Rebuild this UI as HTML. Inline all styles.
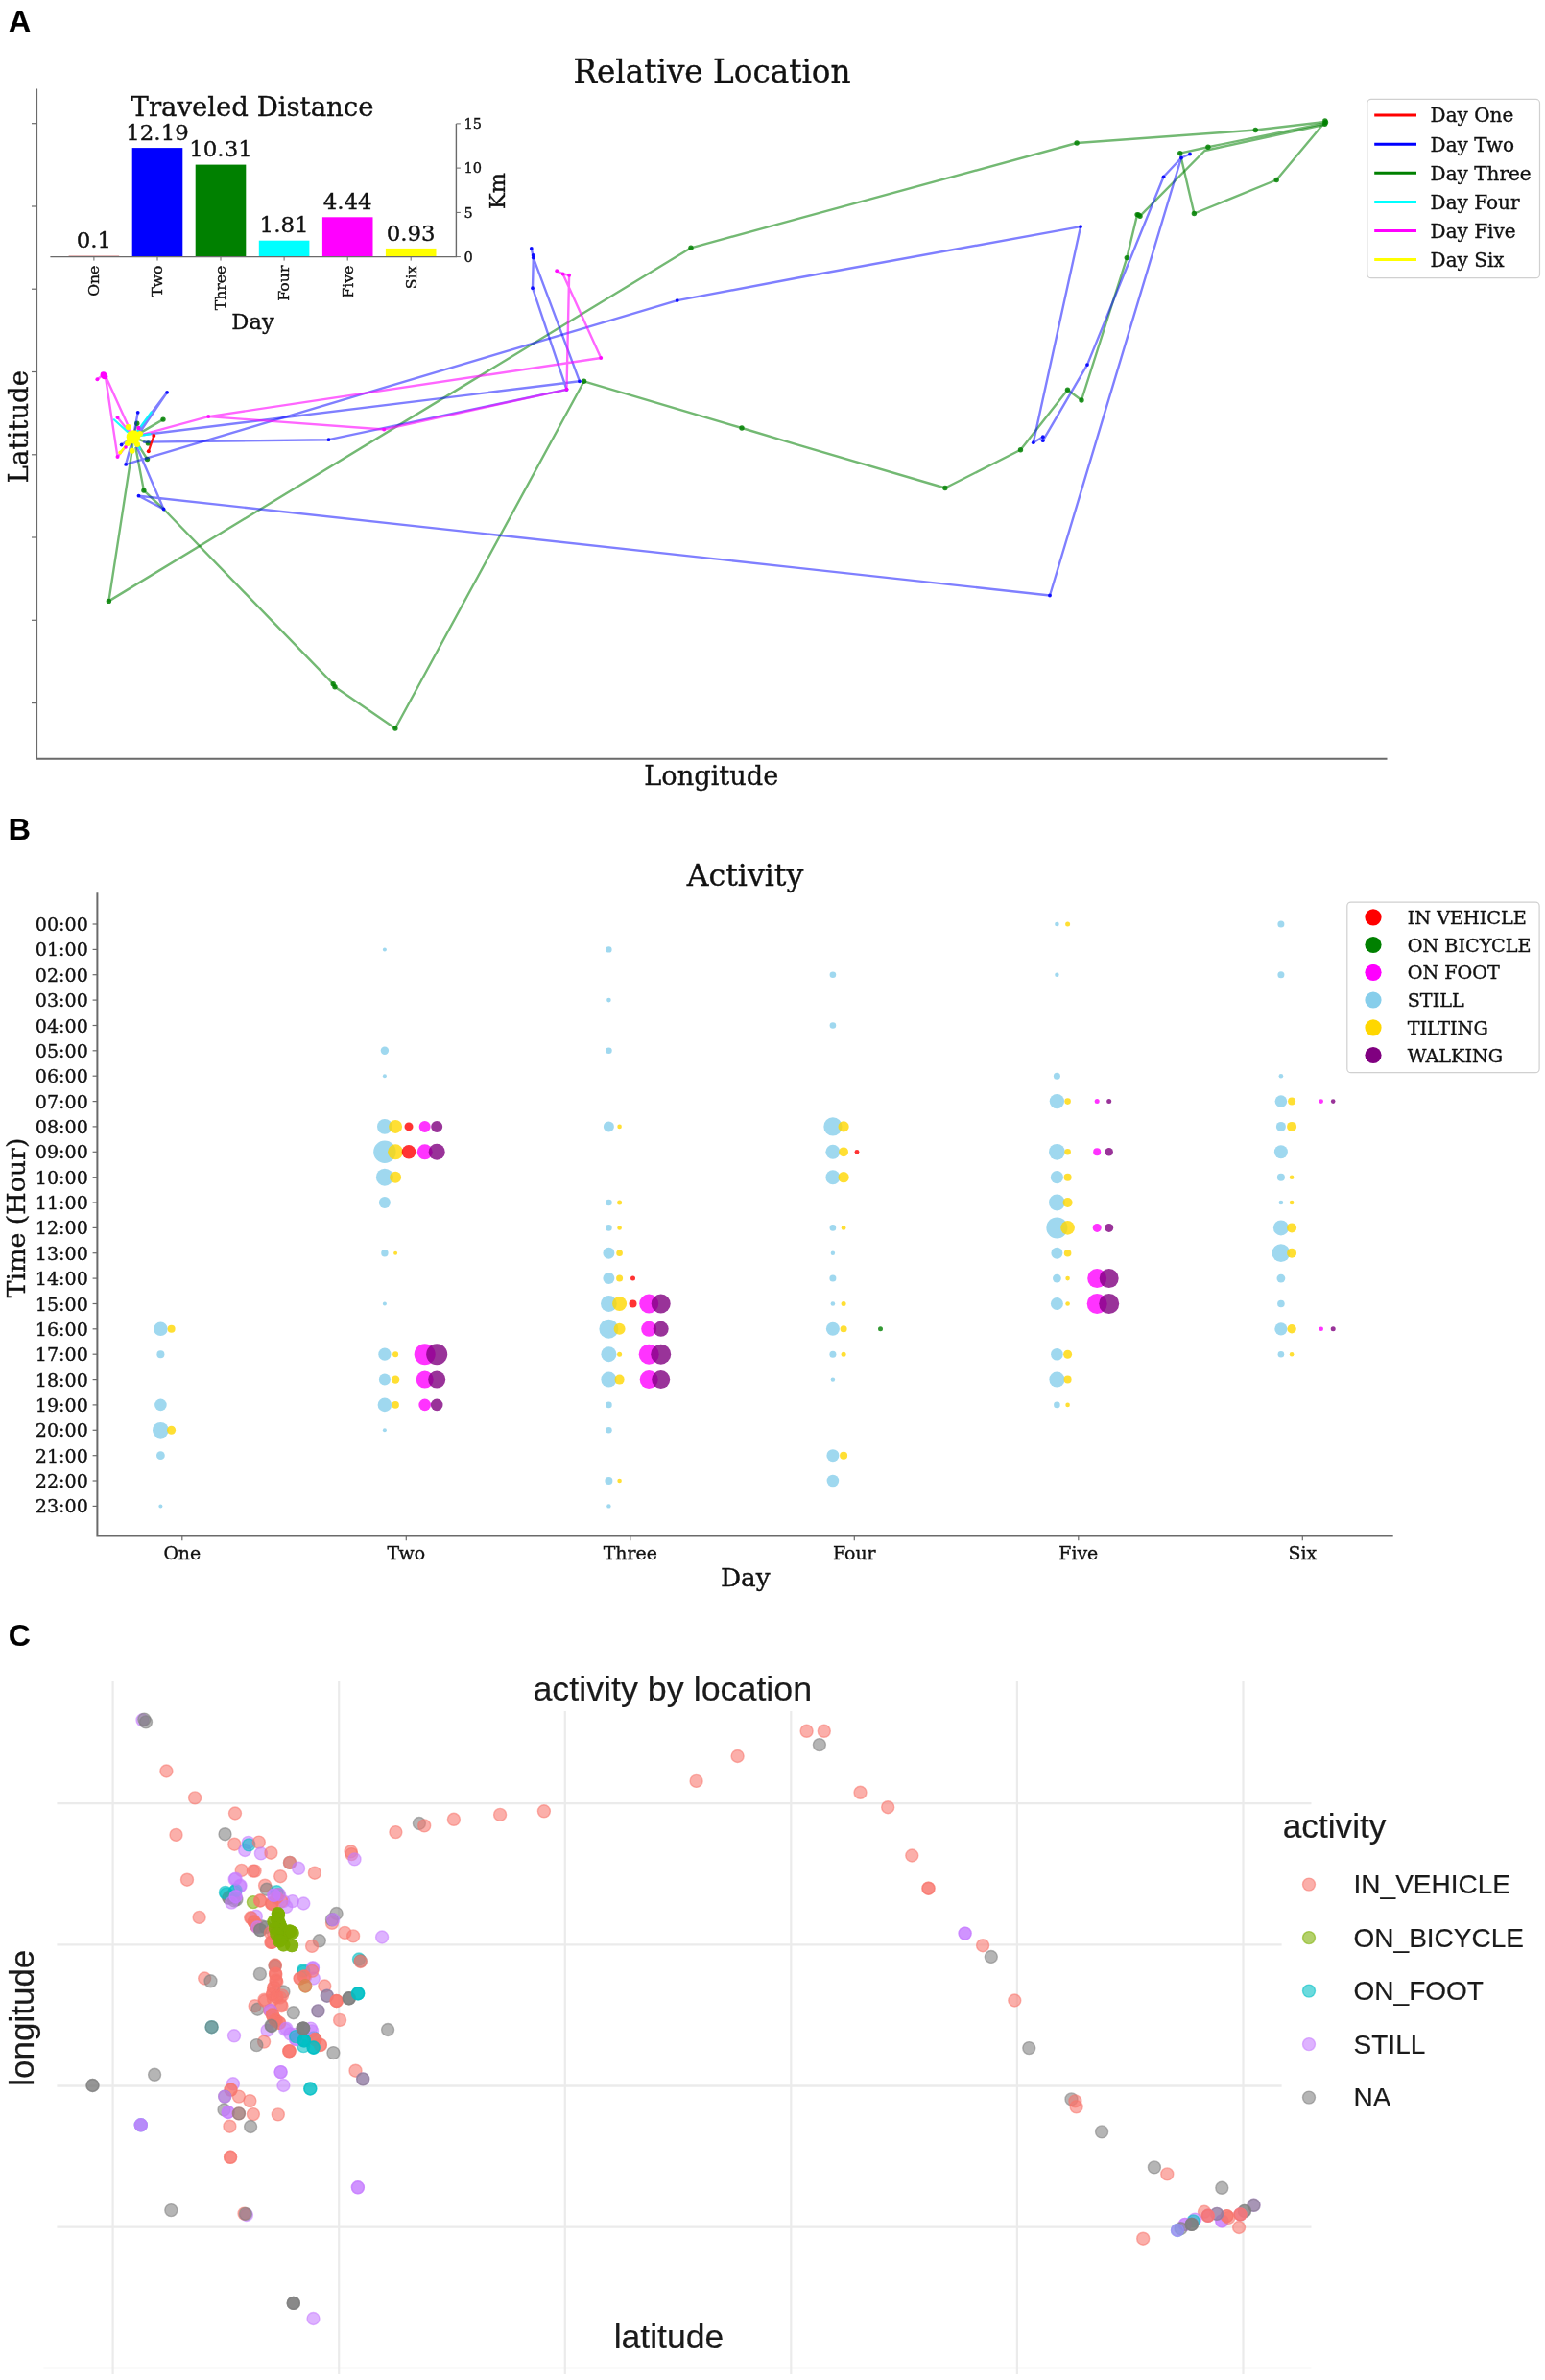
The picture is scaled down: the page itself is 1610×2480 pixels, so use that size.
<!DOCTYPE html>
<html lang="en"><head><meta charset="utf-8"><title>Figure</title>
<style>html,body{margin:0;padding:0;background:#fff}svg{display:block;filter:blur(0.5px)}</style></head><body>
<svg width="1610" height="2480" viewBox="0 0 1610 2480">
<rect width="1610" height="2480" fill="#fff"/>
<g id="panelA">
<text x="9" y="32.6" font-size="32" text-anchor="start" font-family='"Liberation Sans","DejaVu Sans",sans-serif' fill="#000" stroke="#000" stroke-width="0.2" font-weight="bold">A</text>
<text x="742" y="85.9" font-size="32.7" text-anchor="middle" font-family='"DejaVu Serif","Liberation Serif",serif' fill="#111" stroke="#111" stroke-width="0.35">Relative Location</text>
<text x="741.3" y="817.9" font-size="27.2" text-anchor="middle" font-family='"DejaVu Serif","Liberation Serif",serif' fill="#111" stroke="#111" stroke-width="0.35">Longitude</text>
<text x="29" y="444.6" font-size="27.5" text-anchor="middle" font-family='"DejaVu Serif","Liberation Serif",serif' fill="#111" stroke="#111" stroke-width="0.35" transform="rotate(-90 29 444.6)">Latitude</text>
<path d="M38.1 92.6V790.8H1445.5" fill="none" stroke="#6a6a6a" stroke-width="2"/>
<path d="M33 128.7H38" stroke="#6a6a6a" stroke-width="1.2"/>
<path d="M33 215.0H38" stroke="#6a6a6a" stroke-width="1.2"/>
<path d="M33 301.2H38" stroke="#6a6a6a" stroke-width="1.2"/>
<path d="M33 387.5H38" stroke="#6a6a6a" stroke-width="1.2"/>
<path d="M33 473.8H38" stroke="#6a6a6a" stroke-width="1.2"/>
<path d="M33 560.0H38" stroke="#6a6a6a" stroke-width="1.2"/>
<path d="M33 646.3H38" stroke="#6a6a6a" stroke-width="1.2"/>
<path d="M33 732.6H38" stroke="#6a6a6a" stroke-width="1.2"/>
<polyline points="138.9,455.4 142.8,441.2 138.9,455.4 170.0,437.1 138.9,455.4 154.4,461.9 138.9,455.4 153.5,478.5 138.9,455.4 137.5,470.0 113.4,626.4 720.0,258.3 830.0,228.4 1122.1,149.0 1308.3,135.5 1380.8,127.0" fill="none" stroke="#008000" stroke-width="2.4" stroke-opacity="0.55" stroke-linejoin="round" stroke-linecap="round"/>
<polyline points="141.5,467.0 149.9,511.1 170.6,530.5 347.2,712.7 349.0,715.8 411.9,759.0 608.6,397.3 773.0,446.0 830.0,463.2 984.9,508.5 1063.5,468.8 1112.5,406.2 1127.0,417.0 1174.3,268.6 1185.1,223.6 1188.0,225.2 1255.4,157.0 1380.6,129.8" fill="none" stroke="#008000" stroke-width="2.4" stroke-opacity="0.55" stroke-linejoin="round" stroke-linecap="round"/>
<polyline points="1380.6,128.5 1258.9,153.2 1229.7,159.6 1244.4,222.5 1330.2,187.5 1380.8,127.0" fill="none" stroke="#008000" stroke-width="2.4" stroke-opacity="0.55" stroke-linejoin="round" stroke-linecap="round"/>
<circle cx="142.8" cy="441.2" r="2.7" fill="#008000" fill-opacity="0.85"/>
<circle cx="170.0" cy="437.1" r="2.7" fill="#008000" fill-opacity="0.85"/>
<circle cx="154.4" cy="461.9" r="2.7" fill="#008000" fill-opacity="0.85"/>
<circle cx="153.5" cy="478.5" r="2.7" fill="#008000" fill-opacity="0.85"/>
<circle cx="113.4" cy="626.4" r="2.7" fill="#008000" fill-opacity="0.85"/>
<circle cx="608.6" cy="397.3" r="2.7" fill="#008000" fill-opacity="0.85"/>
<circle cx="773.0" cy="446.0" r="2.7" fill="#008000" fill-opacity="0.85"/>
<circle cx="984.9" cy="508.5" r="2.7" fill="#008000" fill-opacity="0.85"/>
<circle cx="1063.5" cy="468.8" r="2.7" fill="#008000" fill-opacity="0.85"/>
<circle cx="1112.5" cy="406.2" r="2.7" fill="#008000" fill-opacity="0.85"/>
<circle cx="1127.0" cy="417.0" r="2.7" fill="#008000" fill-opacity="0.85"/>
<circle cx="1174.3" cy="268.6" r="2.7" fill="#008000" fill-opacity="0.85"/>
<circle cx="1185.1" cy="223.6" r="2.7" fill="#008000" fill-opacity="0.85"/>
<circle cx="1188.0" cy="225.2" r="2.7" fill="#008000" fill-opacity="0.85"/>
<circle cx="1186.5" cy="224.0" r="2.7" fill="#008000" fill-opacity="0.85"/>
<circle cx="1258.9" cy="153.2" r="2.7" fill="#008000" fill-opacity="0.85"/>
<circle cx="1229.7" cy="159.6" r="2.7" fill="#008000" fill-opacity="0.85"/>
<circle cx="1244.4" cy="222.5" r="2.7" fill="#008000" fill-opacity="0.85"/>
<circle cx="1330.2" cy="187.5" r="2.7" fill="#008000" fill-opacity="0.85"/>
<circle cx="1380.8" cy="126.0" r="2.7" fill="#008000" fill-opacity="0.85"/>
<circle cx="1380.6" cy="129.3" r="2.7" fill="#008000" fill-opacity="0.85"/>
<circle cx="1381.5" cy="127.5" r="2.7" fill="#008000" fill-opacity="0.85"/>
<circle cx="1308.3" cy="135.5" r="2.7" fill="#008000" fill-opacity="0.85"/>
<circle cx="1122.1" cy="149.0" r="2.7" fill="#008000" fill-opacity="0.85"/>
<circle cx="720.0" cy="258.3" r="2.7" fill="#008000" fill-opacity="0.85"/>
<circle cx="149.9" cy="511.1" r="2.7" fill="#008000" fill-opacity="0.85"/>
<circle cx="347.2" cy="712.7" r="2.7" fill="#008000" fill-opacity="0.85"/>
<circle cx="349.0" cy="715.8" r="2.7" fill="#008000" fill-opacity="0.85"/>
<circle cx="411.9" cy="759.0" r="2.7" fill="#008000" fill-opacity="0.85"/>
<polyline points="138.9,455.4 174.1,408.8 146.0,450.0 138.9,455.4 143.7,429.8 138.9,455.4 126.6,463.5 138.9,455.4 131.1,483.9 705.7,313.1 830.0,289.8 1126.1,236.1 1076.8,461.2 1086.8,455.2 1086.8,459.2 1133.0,380.1 1212.5,184.3 1231.0,164.5 1240.0,160.5 1231.0,164.5 1094.0,620.5 830.0,591.6 144.5,516.7 170.6,530.5 141.0,462.0" fill="none" stroke="#0000ff" stroke-width="2.4" stroke-opacity="0.5" stroke-linejoin="round" stroke-linecap="round"/>
<polyline points="150.0,460.6 342.5,458.2 590.5,405.8 555.0,300.2 555.8,268.6 553.8,259.0 555.8,268.6 604.0,397.3 150.0,453.0" fill="none" stroke="#0000ff" stroke-width="2.4" stroke-opacity="0.5" stroke-linejoin="round" stroke-linecap="round"/>
<circle cx="174.1" cy="408.8" r="1.9" fill="#0000ff" fill-opacity="0.9"/>
<circle cx="143.7" cy="429.8" r="1.9" fill="#0000ff" fill-opacity="0.9"/>
<circle cx="126.6" cy="463.5" r="1.9" fill="#0000ff" fill-opacity="0.9"/>
<circle cx="131.1" cy="483.9" r="1.9" fill="#0000ff" fill-opacity="0.9"/>
<circle cx="705.7" cy="313.1" r="1.9" fill="#0000ff" fill-opacity="0.9"/>
<circle cx="1126.1" cy="236.1" r="1.9" fill="#0000ff" fill-opacity="0.9"/>
<circle cx="1076.8" cy="461.2" r="1.9" fill="#0000ff" fill-opacity="0.9"/>
<circle cx="1086.8" cy="455.2" r="1.9" fill="#0000ff" fill-opacity="0.9"/>
<circle cx="1086.8" cy="459.2" r="1.9" fill="#0000ff" fill-opacity="0.9"/>
<circle cx="1133.0" cy="380.1" r="1.9" fill="#0000ff" fill-opacity="0.9"/>
<circle cx="1212.5" cy="184.3" r="1.9" fill="#0000ff" fill-opacity="0.9"/>
<circle cx="1231.0" cy="164.5" r="1.9" fill="#0000ff" fill-opacity="0.9"/>
<circle cx="1240.0" cy="160.5" r="1.9" fill="#0000ff" fill-opacity="0.9"/>
<circle cx="1094.0" cy="620.5" r="1.9" fill="#0000ff" fill-opacity="0.9"/>
<circle cx="144.5" cy="516.7" r="1.9" fill="#0000ff" fill-opacity="0.9"/>
<circle cx="170.6" cy="530.5" r="1.9" fill="#0000ff" fill-opacity="0.9"/>
<circle cx="342.5" cy="458.2" r="1.9" fill="#0000ff" fill-opacity="0.9"/>
<circle cx="590.5" cy="405.8" r="1.9" fill="#0000ff" fill-opacity="0.9"/>
<circle cx="555.0" cy="300.2" r="1.9" fill="#0000ff" fill-opacity="0.9"/>
<circle cx="555.8" cy="268.6" r="1.9" fill="#0000ff" fill-opacity="0.9"/>
<circle cx="555.6" cy="266.0" r="1.9" fill="#0000ff" fill-opacity="0.9"/>
<circle cx="553.8" cy="259.0" r="1.9" fill="#0000ff" fill-opacity="0.9"/>
<circle cx="604.0" cy="397.3" r="1.9" fill="#0000ff" fill-opacity="0.9"/>
<polyline points="138.9,455.4 110.4,392.7 107.8,390.5 101.4,395.2 107.8,390.5 110.0,393.0 122.5,476.1 138.9,455.4 122.5,435.1 138.9,455.4 217.2,434.1 626.2,373.0 586.6,285.4 580.2,282.3 586.6,285.4 593.1,286.7 590.5,405.8 400.2,447.5 217.2,434.1 138.9,455.4" fill="none" stroke="#ff00ff" stroke-width="2.4" stroke-opacity="0.6" stroke-linejoin="round" stroke-linecap="round"/>
<circle cx="110.4" cy="392.7" r="2.0" fill="#ff00ff" fill-opacity="0.9"/>
<circle cx="101.4" cy="395.2" r="2.0" fill="#ff00ff" fill-opacity="0.9"/>
<circle cx="122.5" cy="476.1" r="2.0" fill="#ff00ff" fill-opacity="0.9"/>
<circle cx="122.5" cy="435.1" r="2.0" fill="#ff00ff" fill-opacity="0.9"/>
<circle cx="217.2" cy="434.1" r="2.0" fill="#ff00ff" fill-opacity="0.9"/>
<circle cx="626.2" cy="373.0" r="2.0" fill="#ff00ff" fill-opacity="0.9"/>
<circle cx="586.6" cy="285.4" r="2.0" fill="#ff00ff" fill-opacity="0.9"/>
<circle cx="580.2" cy="282.3" r="2.0" fill="#ff00ff" fill-opacity="0.9"/>
<circle cx="593.1" cy="286.7" r="2.0" fill="#ff00ff" fill-opacity="0.9"/>
<circle cx="590.5" cy="405.8" r="2.0" fill="#ff00ff" fill-opacity="0.9"/>
<circle cx="400.2" cy="447.5" r="2.0" fill="#ff00ff" fill-opacity="0.9"/>
<circle cx="107.8" cy="390.5" r="3.2" fill="#ff00ff" fill-opacity="1"/>
<circle cx="109.0" cy="392.0" r="3.2" fill="#ff00ff" fill-opacity="1"/>
<polyline points="138.9,455.4 157.7,429.5" fill="none" stroke="#00ffff" stroke-width="2.2" stroke-opacity="0.9" stroke-linejoin="round" stroke-linecap="round"/>
<polyline points="138.9,455.4 118.8,437.3" fill="none" stroke="#00ffff" stroke-width="2.2" stroke-opacity="0.9" stroke-linejoin="round" stroke-linecap="round"/>
<polyline points="138.9,455.4 156.4,452.2" fill="none" stroke="#00ffff" stroke-width="2.2" stroke-opacity="0.9" stroke-linejoin="round" stroke-linecap="round"/>
<polyline points="138.9,455.4 130.0,466.0" fill="none" stroke="#00ffff" stroke-width="2.2" stroke-opacity="0.9" stroke-linejoin="round" stroke-linecap="round"/>
<polyline points="138.9,455.4 146.0,468.0" fill="none" stroke="#00ffff" stroke-width="2.2" stroke-opacity="0.9" stroke-linejoin="round" stroke-linecap="round"/>
<polyline points="160.3,454.1 154.8,470.3" fill="none" stroke="#ff0000" stroke-width="2.2" stroke-opacity="0.9" stroke-linejoin="round" stroke-linecap="round"/>
<circle cx="160.3" cy="454.1" r="2" fill="#ff0000" fill-opacity="1"/>
<circle cx="154.8" cy="470.3" r="2" fill="#ff0000" fill-opacity="1"/>
<polyline points="138.9,455.4 125.3,471.6" fill="none" stroke="#ffff00" stroke-width="2.4" stroke-opacity="1" stroke-linejoin="round" stroke-linecap="round"/>
<circle cx="138.9" cy="455.4" r="7.2" fill="#ffff00" fill-opacity="1"/>
<circle cx="133.7" cy="445.1" r="3" fill="#ffff00" fill-opacity="1"/>
<circle cx="137.6" cy="469.7" r="3" fill="#ffff00" fill-opacity="1"/>
<circle cx="143.0" cy="463.0" r="3" fill="#ffff00" fill-opacity="1"/>
<circle cx="133.0" cy="462.0" r="3" fill="#ffff00" fill-opacity="1"/>
<circle cx="146.0" cy="452.0" r="3" fill="#ffff00" fill-opacity="1"/>
<circle cx="125.3" cy="471.6" r="2" fill="#ffff00" fill-opacity="1"/>
<circle cx="144.5" cy="446.0" r="2.2" fill="#ff00ff" fill-opacity="1"/>
<circle cx="131.0" cy="466.0" r="1.8" fill="#ff00ff" fill-opacity="1"/>
<rect x="1424.8" y="103.4" width="179.7" height="186.3" rx="4" fill="#fff" stroke="#d0d0d0" stroke-width="1.2"/>
<path d="M1432.2 120.1H1476" stroke="#ff0000" stroke-width="3"/>
<text x="1490.6" y="127.4" font-size="20" text-anchor="start" font-family='"DejaVu Serif","Liberation Serif",serif' fill="#111" stroke="#111" stroke-width="0.35">Day One</text>
<path d="M1432.2 150.2H1476" stroke="#0000ff" stroke-width="3"/>
<text x="1490.6" y="157.5" font-size="20" text-anchor="start" font-family='"DejaVu Serif","Liberation Serif",serif' fill="#111" stroke="#111" stroke-width="0.35">Day Two</text>
<path d="M1432.2 180.3H1476" stroke="#008000" stroke-width="3"/>
<text x="1490.6" y="187.6" font-size="20" text-anchor="start" font-family='"DejaVu Serif","Liberation Serif",serif' fill="#111" stroke="#111" stroke-width="0.35">Day Three</text>
<path d="M1432.2 210.4H1476" stroke="#00ffff" stroke-width="3"/>
<text x="1490.6" y="217.7" font-size="20" text-anchor="start" font-family='"DejaVu Serif","Liberation Serif",serif' fill="#111" stroke="#111" stroke-width="0.35">Day Four</text>
<path d="M1432.2 240.5H1476" stroke="#ff00ff" stroke-width="3"/>
<text x="1490.6" y="247.8" font-size="20" text-anchor="start" font-family='"DejaVu Serif","Liberation Serif",serif' fill="#111" stroke="#111" stroke-width="0.35">Day Five</text>
<path d="M1432.2 270.6H1476" stroke="#ffff00" stroke-width="3"/>
<text x="1490.6" y="277.9" font-size="20" text-anchor="start" font-family='"DejaVu Serif","Liberation Serif",serif' fill="#111" stroke="#111" stroke-width="0.35">Day Six</text>
<text x="263" y="121.3" font-size="27.5" text-anchor="middle" font-family='"DejaVu Serif","Liberation Serif",serif' fill="#111" stroke="#111" stroke-width="0.35">Traveled Distance</text>
<rect x="71.6" y="266.7" width="52.6" height="0.9" fill="#b22222"/>
<text x="97.9" y="258.4" font-size="22.9" text-anchor="middle" font-family='"DejaVu Serif","Liberation Serif",serif' fill="#111" stroke="#111" stroke-width="0.35">0.1</text>
<path d="M97.9 267.6v4" stroke="#6a6a6a" stroke-width="1"/>
<text x="103.3" y="276.6" font-size="15.7" text-anchor="end" font-family='"DejaVu Serif","Liberation Serif",serif' fill="#111" stroke="#111" stroke-width="0.35" transform="rotate(-90 103.3 276.6)">One</text>
<rect x="137.7" y="154.1" width="52.6" height="113.5" fill="#0000ff"/>
<text x="164.0" y="145.8" font-size="22.9" text-anchor="middle" font-family='"DejaVu Serif","Liberation Serif",serif' fill="#111" stroke="#111" stroke-width="0.35">12.19</text>
<path d="M164.0 267.6v4" stroke="#6a6a6a" stroke-width="1"/>
<text x="169.4" y="276.6" font-size="15.7" text-anchor="end" font-family='"DejaVu Serif","Liberation Serif",serif' fill="#111" stroke="#111" stroke-width="0.35" transform="rotate(-90 169.4 276.6)">Two</text>
<rect x="203.7" y="171.6" width="52.6" height="96.0" fill="#008000"/>
<text x="230.0" y="163.3" font-size="22.9" text-anchor="middle" font-family='"DejaVu Serif","Liberation Serif",serif' fill="#111" stroke="#111" stroke-width="0.35">10.31</text>
<path d="M230.0 267.6v4" stroke="#6a6a6a" stroke-width="1"/>
<text x="235.4" y="276.6" font-size="15.7" text-anchor="end" font-family='"DejaVu Serif","Liberation Serif",serif' fill="#111" stroke="#111" stroke-width="0.35" transform="rotate(-90 235.4 276.6)">Three</text>
<rect x="269.8" y="250.7" width="52.6" height="16.9" fill="#00ffff"/>
<text x="296.1" y="242.4" font-size="22.9" text-anchor="middle" font-family='"DejaVu Serif","Liberation Serif",serif' fill="#111" stroke="#111" stroke-width="0.35">1.81</text>
<path d="M296.1 267.6v4" stroke="#6a6a6a" stroke-width="1"/>
<text x="301.5" y="276.6" font-size="15.7" text-anchor="end" font-family='"DejaVu Serif","Liberation Serif",serif' fill="#111" stroke="#111" stroke-width="0.35" transform="rotate(-90 301.5 276.6)">Four</text>
<rect x="335.9" y="226.3" width="52.6" height="41.3" fill="#ff00ff"/>
<text x="362.2" y="218.0" font-size="22.9" text-anchor="middle" font-family='"DejaVu Serif","Liberation Serif",serif' fill="#111" stroke="#111" stroke-width="0.35">4.44</text>
<path d="M362.2 267.6v4" stroke="#6a6a6a" stroke-width="1"/>
<text x="367.6" y="276.6" font-size="15.7" text-anchor="end" font-family='"DejaVu Serif","Liberation Serif",serif' fill="#111" stroke="#111" stroke-width="0.35" transform="rotate(-90 367.6 276.6)">Five</text>
<rect x="401.9" y="258.9" width="52.6" height="8.7" fill="#ffff00"/>
<text x="428.2" y="250.6" font-size="22.9" text-anchor="middle" font-family='"DejaVu Serif","Liberation Serif",serif' fill="#111" stroke="#111" stroke-width="0.35">0.93</text>
<path d="M428.2 267.6v4" stroke="#6a6a6a" stroke-width="1"/>
<text x="433.6" y="276.6" font-size="15.7" text-anchor="end" font-family='"DejaVu Serif","Liberation Serif",serif' fill="#111" stroke="#111" stroke-width="0.35" transform="rotate(-90 433.6 276.6)">Six</text>
<path d="M52.4 267.6H475.4V128.9" fill="none" stroke="#6a6a6a" stroke-width="1.4"/>
<path d="M475.4 267.6h4.5" stroke="#6a6a6a" stroke-width="1"/>
<text x="483.5" y="272.8" font-size="14.5" text-anchor="start" font-family='"DejaVu Serif","Liberation Serif",serif' fill="#111" stroke="#111" stroke-width="0.35">0</text>
<path d="M475.4 221.4h4.5" stroke="#6a6a6a" stroke-width="1"/>
<text x="483.5" y="226.6" font-size="14.5" text-anchor="start" font-family='"DejaVu Serif","Liberation Serif",serif' fill="#111" stroke="#111" stroke-width="0.35">5</text>
<path d="M475.4 175.1h4.5" stroke="#6a6a6a" stroke-width="1"/>
<text x="483.5" y="180.3" font-size="14.5" text-anchor="start" font-family='"DejaVu Serif","Liberation Serif",serif' fill="#111" stroke="#111" stroke-width="0.35">10</text>
<path d="M475.4 128.9h4.5" stroke="#6a6a6a" stroke-width="1"/>
<text x="483.5" y="134.1" font-size="14.5" text-anchor="start" font-family='"DejaVu Serif","Liberation Serif",serif' fill="#111" stroke="#111" stroke-width="0.35">15</text>
<text x="263.5" y="342.8" font-size="22.6" text-anchor="middle" font-family='"DejaVu Serif","Liberation Serif",serif' fill="#111" stroke="#111" stroke-width="0.35">Day</text>
<text x="526" y="199" font-size="22.3" text-anchor="middle" font-family='"DejaVu Serif","Liberation Serif",serif' fill="#111" stroke="#111" stroke-width="0.35" transform="rotate(-90 526 199)">Km</text>
</g>
<g id="panelB">
<text x="8.7" y="875.2" font-size="32" text-anchor="start" font-family='"Liberation Sans","DejaVu Sans",sans-serif' fill="#000" stroke="#000" stroke-width="0.2" font-weight="bold">B</text>
<text x="776.5" y="922.6" font-size="31.5" text-anchor="middle" font-family='"DejaVu Serif","Liberation Serif",serif' fill="#111" stroke="#111" stroke-width="0.35">Activity</text>
<text x="776.7" y="1653.4" font-size="26.3" text-anchor="middle" font-family='"DejaVu Serif","Liberation Serif",serif' fill="#111" stroke="#111" stroke-width="0.35">Day</text>
<text x="26" y="1269" font-size="26.8" text-anchor="middle" font-family='"DejaVu Serif","Liberation Serif",serif' fill="#111" stroke="#111" stroke-width="0.35" transform="rotate(-90 26 1269)">Time (Hour)</text>
<path d="M101.4 930.2V1600.5H1451.7" fill="none" stroke="#6a6a6a" stroke-width="2"/>
<path d="M96.6 963.0H101.4" stroke="#6a6a6a" stroke-width="1.2"/>
<text x="91.8" y="970.0" font-size="19.1" text-anchor="end" font-family='"DejaVu Serif","Liberation Serif",serif' fill="#111" stroke="#111" stroke-width="0.35">00:00</text>
<path d="M96.6 989.4H101.4" stroke="#6a6a6a" stroke-width="1.2"/>
<text x="91.8" y="996.4" font-size="19.1" text-anchor="end" font-family='"DejaVu Serif","Liberation Serif",serif' fill="#111" stroke="#111" stroke-width="0.35">01:00</text>
<path d="M96.6 1015.7H101.4" stroke="#6a6a6a" stroke-width="1.2"/>
<text x="91.8" y="1022.7" font-size="19.1" text-anchor="end" font-family='"DejaVu Serif","Liberation Serif",serif' fill="#111" stroke="#111" stroke-width="0.35">02:00</text>
<path d="M96.6 1042.1H101.4" stroke="#6a6a6a" stroke-width="1.2"/>
<text x="91.8" y="1049.1" font-size="19.1" text-anchor="end" font-family='"DejaVu Serif","Liberation Serif",serif' fill="#111" stroke="#111" stroke-width="0.35">03:00</text>
<path d="M96.6 1068.5H101.4" stroke="#6a6a6a" stroke-width="1.2"/>
<text x="91.8" y="1075.5" font-size="19.1" text-anchor="end" font-family='"DejaVu Serif","Liberation Serif",serif' fill="#111" stroke="#111" stroke-width="0.35">04:00</text>
<path d="M96.6 1094.8H101.4" stroke="#6a6a6a" stroke-width="1.2"/>
<text x="91.8" y="1101.8" font-size="19.1" text-anchor="end" font-family='"DejaVu Serif","Liberation Serif",serif' fill="#111" stroke="#111" stroke-width="0.35">05:00</text>
<path d="M96.6 1121.2H101.4" stroke="#6a6a6a" stroke-width="1.2"/>
<text x="91.8" y="1128.2" font-size="19.1" text-anchor="end" font-family='"DejaVu Serif","Liberation Serif",serif' fill="#111" stroke="#111" stroke-width="0.35">06:00</text>
<path d="M96.6 1147.6H101.4" stroke="#6a6a6a" stroke-width="1.2"/>
<text x="91.8" y="1154.6" font-size="19.1" text-anchor="end" font-family='"DejaVu Serif","Liberation Serif",serif' fill="#111" stroke="#111" stroke-width="0.35">07:00</text>
<path d="M96.6 1173.9H101.4" stroke="#6a6a6a" stroke-width="1.2"/>
<text x="91.8" y="1180.9" font-size="19.1" text-anchor="end" font-family='"DejaVu Serif","Liberation Serif",serif' fill="#111" stroke="#111" stroke-width="0.35">08:00</text>
<path d="M96.6 1200.3H101.4" stroke="#6a6a6a" stroke-width="1.2"/>
<text x="91.8" y="1207.3" font-size="19.1" text-anchor="end" font-family='"DejaVu Serif","Liberation Serif",serif' fill="#111" stroke="#111" stroke-width="0.35">09:00</text>
<path d="M96.6 1226.7H101.4" stroke="#6a6a6a" stroke-width="1.2"/>
<text x="91.8" y="1233.7" font-size="19.1" text-anchor="end" font-family='"DejaVu Serif","Liberation Serif",serif' fill="#111" stroke="#111" stroke-width="0.35">10:00</text>
<path d="M96.6 1253.0H101.4" stroke="#6a6a6a" stroke-width="1.2"/>
<text x="91.8" y="1260.0" font-size="19.1" text-anchor="end" font-family='"DejaVu Serif","Liberation Serif",serif' fill="#111" stroke="#111" stroke-width="0.35">11:00</text>
<path d="M96.6 1279.4H101.4" stroke="#6a6a6a" stroke-width="1.2"/>
<text x="91.8" y="1286.4" font-size="19.1" text-anchor="end" font-family='"DejaVu Serif","Liberation Serif",serif' fill="#111" stroke="#111" stroke-width="0.35">12:00</text>
<path d="M96.6 1305.7H101.4" stroke="#6a6a6a" stroke-width="1.2"/>
<text x="91.8" y="1312.7" font-size="19.1" text-anchor="end" font-family='"DejaVu Serif","Liberation Serif",serif' fill="#111" stroke="#111" stroke-width="0.35">13:00</text>
<path d="M96.6 1332.1H101.4" stroke="#6a6a6a" stroke-width="1.2"/>
<text x="91.8" y="1339.1" font-size="19.1" text-anchor="end" font-family='"DejaVu Serif","Liberation Serif",serif' fill="#111" stroke="#111" stroke-width="0.35">14:00</text>
<path d="M96.6 1358.5H101.4" stroke="#6a6a6a" stroke-width="1.2"/>
<text x="91.8" y="1365.5" font-size="19.1" text-anchor="end" font-family='"DejaVu Serif","Liberation Serif",serif' fill="#111" stroke="#111" stroke-width="0.35">15:00</text>
<path d="M96.6 1384.8H101.4" stroke="#6a6a6a" stroke-width="1.2"/>
<text x="91.8" y="1391.8" font-size="19.1" text-anchor="end" font-family='"DejaVu Serif","Liberation Serif",serif' fill="#111" stroke="#111" stroke-width="0.35">16:00</text>
<path d="M96.6 1411.2H101.4" stroke="#6a6a6a" stroke-width="1.2"/>
<text x="91.8" y="1418.2" font-size="19.1" text-anchor="end" font-family='"DejaVu Serif","Liberation Serif",serif' fill="#111" stroke="#111" stroke-width="0.35">17:00</text>
<path d="M96.6 1437.6H101.4" stroke="#6a6a6a" stroke-width="1.2"/>
<text x="91.8" y="1444.6" font-size="19.1" text-anchor="end" font-family='"DejaVu Serif","Liberation Serif",serif' fill="#111" stroke="#111" stroke-width="0.35">18:00</text>
<path d="M96.6 1463.9H101.4" stroke="#6a6a6a" stroke-width="1.2"/>
<text x="91.8" y="1470.9" font-size="19.1" text-anchor="end" font-family='"DejaVu Serif","Liberation Serif",serif' fill="#111" stroke="#111" stroke-width="0.35">19:00</text>
<path d="M96.6 1490.3H101.4" stroke="#6a6a6a" stroke-width="1.2"/>
<text x="91.8" y="1497.3" font-size="19.1" text-anchor="end" font-family='"DejaVu Serif","Liberation Serif",serif' fill="#111" stroke="#111" stroke-width="0.35">20:00</text>
<path d="M96.6 1516.7H101.4" stroke="#6a6a6a" stroke-width="1.2"/>
<text x="91.8" y="1523.7" font-size="19.1" text-anchor="end" font-family='"DejaVu Serif","Liberation Serif",serif' fill="#111" stroke="#111" stroke-width="0.35">21:00</text>
<path d="M96.6 1543.0H101.4" stroke="#6a6a6a" stroke-width="1.2"/>
<text x="91.8" y="1550.0" font-size="19.1" text-anchor="end" font-family='"DejaVu Serif","Liberation Serif",serif' fill="#111" stroke="#111" stroke-width="0.35">22:00</text>
<path d="M96.6 1569.4H101.4" stroke="#6a6a6a" stroke-width="1.2"/>
<text x="91.8" y="1576.4" font-size="19.1" text-anchor="end" font-family='"DejaVu Serif","Liberation Serif",serif' fill="#111" stroke="#111" stroke-width="0.35">23:00</text>
<path d="M189.8 1600.5v4.8" stroke="#6a6a6a" stroke-width="1.2"/>
<text x="189.8" y="1624.8" font-size="18.9" text-anchor="middle" font-family='"DejaVu Serif","Liberation Serif",serif' fill="#111" stroke="#111" stroke-width="0.35">One</text>
<path d="M423.3 1600.5v4.8" stroke="#6a6a6a" stroke-width="1.2"/>
<text x="423.3" y="1624.8" font-size="18.9" text-anchor="middle" font-family='"DejaVu Serif","Liberation Serif",serif' fill="#111" stroke="#111" stroke-width="0.35">Two</text>
<path d="M656.8 1600.5v4.8" stroke="#6a6a6a" stroke-width="1.2"/>
<text x="656.8" y="1624.8" font-size="18.9" text-anchor="middle" font-family='"DejaVu Serif","Liberation Serif",serif' fill="#111" stroke="#111" stroke-width="0.35">Three</text>
<path d="M890.3 1600.5v4.8" stroke="#6a6a6a" stroke-width="1.2"/>
<text x="890.3" y="1624.8" font-size="18.9" text-anchor="middle" font-family='"DejaVu Serif","Liberation Serif",serif' fill="#111" stroke="#111" stroke-width="0.35">Four</text>
<path d="M1123.8 1600.5v4.8" stroke="#6a6a6a" stroke-width="1.2"/>
<text x="1123.8" y="1624.8" font-size="18.9" text-anchor="middle" font-family='"DejaVu Serif","Liberation Serif",serif' fill="#111" stroke="#111" stroke-width="0.35">Five</text>
<path d="M1357.3 1600.5v4.8" stroke="#6a6a6a" stroke-width="1.2"/>
<text x="1357.3" y="1624.8" font-size="18.9" text-anchor="middle" font-family='"DejaVu Serif","Liberation Serif",serif' fill="#111" stroke="#111" stroke-width="0.35">Six</text>
<circle cx="167.4" cy="1384.8" r="7.3" fill="#87ceeb" fill-opacity="0.8"/>
<circle cx="178.6" cy="1384.8" r="4" fill="#ffd700" fill-opacity="0.8"/>
<circle cx="167.4" cy="1411.2" r="4" fill="#87ceeb" fill-opacity="0.8"/>
<circle cx="167.4" cy="1463.9" r="6.3" fill="#87ceeb" fill-opacity="0.8"/>
<circle cx="167.4" cy="1490.3" r="8.4" fill="#87ceeb" fill-opacity="0.8"/>
<circle cx="178.6" cy="1490.3" r="4.5" fill="#ffd700" fill-opacity="0.8"/>
<circle cx="167.4" cy="1516.7" r="4.4" fill="#87ceeb" fill-opacity="0.8"/>
<circle cx="167.4" cy="1569.4" r="2" fill="#87ceeb" fill-opacity="0.8"/>
<circle cx="400.9" cy="989.4" r="2" fill="#87ceeb" fill-opacity="0.8"/>
<circle cx="400.9" cy="1094.8" r="4.2" fill="#87ceeb" fill-opacity="0.8"/>
<circle cx="400.9" cy="1121.2" r="2" fill="#87ceeb" fill-opacity="0.8"/>
<circle cx="400.9" cy="1173.9" r="7.9" fill="#87ceeb" fill-opacity="0.8"/>
<circle cx="412.1" cy="1173.9" r="7" fill="#ffd700" fill-opacity="0.8"/>
<circle cx="426.0" cy="1173.9" r="4.5" fill="#ff0000" fill-opacity="0.8"/>
<circle cx="442.7" cy="1173.9" r="6" fill="#ff00ff" fill-opacity="0.8"/>
<circle cx="455.2" cy="1173.9" r="6" fill="#800080" fill-opacity="0.8"/>
<circle cx="400.9" cy="1200.3" r="11.7" fill="#87ceeb" fill-opacity="0.8"/>
<circle cx="412.1" cy="1200.3" r="8" fill="#ffd700" fill-opacity="0.8"/>
<circle cx="426.0" cy="1200.3" r="7.3" fill="#ff0000" fill-opacity="0.8"/>
<circle cx="442.7" cy="1200.3" r="8" fill="#ff00ff" fill-opacity="0.8"/>
<circle cx="455.2" cy="1200.3" r="8.5" fill="#800080" fill-opacity="0.8"/>
<circle cx="400.9" cy="1226.7" r="9" fill="#87ceeb" fill-opacity="0.8"/>
<circle cx="412.1" cy="1226.7" r="6" fill="#ffd700" fill-opacity="0.8"/>
<circle cx="400.9" cy="1253.0" r="6" fill="#87ceeb" fill-opacity="0.8"/>
<circle cx="400.9" cy="1305.7" r="3.7" fill="#87ceeb" fill-opacity="0.8"/>
<circle cx="412.1" cy="1305.7" r="2" fill="#ffd700" fill-opacity="0.8"/>
<circle cx="400.9" cy="1358.5" r="2" fill="#87ceeb" fill-opacity="0.8"/>
<circle cx="400.9" cy="1411.2" r="6.6" fill="#87ceeb" fill-opacity="0.8"/>
<circle cx="412.1" cy="1411.2" r="3" fill="#ffd700" fill-opacity="0.8"/>
<circle cx="442.7" cy="1411.2" r="11" fill="#ff00ff" fill-opacity="0.8"/>
<circle cx="455.2" cy="1411.2" r="11" fill="#800080" fill-opacity="0.8"/>
<circle cx="400.9" cy="1437.6" r="6" fill="#87ceeb" fill-opacity="0.8"/>
<circle cx="412.1" cy="1437.6" r="4.2" fill="#ffd700" fill-opacity="0.8"/>
<circle cx="442.7" cy="1437.6" r="9" fill="#ff00ff" fill-opacity="0.8"/>
<circle cx="455.2" cy="1437.6" r="9" fill="#800080" fill-opacity="0.8"/>
<circle cx="400.9" cy="1463.9" r="7.3" fill="#87ceeb" fill-opacity="0.8"/>
<circle cx="412.1" cy="1463.9" r="3.8" fill="#ffd700" fill-opacity="0.8"/>
<circle cx="442.7" cy="1463.9" r="6.3" fill="#ff00ff" fill-opacity="0.8"/>
<circle cx="455.2" cy="1463.9" r="6.3" fill="#800080" fill-opacity="0.8"/>
<circle cx="400.9" cy="1490.3" r="2" fill="#87ceeb" fill-opacity="0.8"/>
<circle cx="634.4" cy="989.4" r="3.2" fill="#87ceeb" fill-opacity="0.8"/>
<circle cx="634.4" cy="1042.1" r="2.3" fill="#87ceeb" fill-opacity="0.8"/>
<circle cx="634.4" cy="1094.8" r="3.3" fill="#87ceeb" fill-opacity="0.8"/>
<circle cx="634.4" cy="1173.9" r="5.5" fill="#87ceeb" fill-opacity="0.8"/>
<circle cx="645.6" cy="1173.9" r="2.3" fill="#ffd700" fill-opacity="0.8"/>
<circle cx="634.4" cy="1253.0" r="3.3" fill="#87ceeb" fill-opacity="0.8"/>
<circle cx="645.6" cy="1253.0" r="2.5" fill="#ffd700" fill-opacity="0.8"/>
<circle cx="634.4" cy="1279.4" r="3.3" fill="#87ceeb" fill-opacity="0.8"/>
<circle cx="645.6" cy="1279.4" r="2.3" fill="#ffd700" fill-opacity="0.8"/>
<circle cx="634.4" cy="1305.7" r="6" fill="#87ceeb" fill-opacity="0.8"/>
<circle cx="645.6" cy="1305.7" r="3.3" fill="#ffd700" fill-opacity="0.8"/>
<circle cx="634.4" cy="1332.1" r="6" fill="#87ceeb" fill-opacity="0.8"/>
<circle cx="645.6" cy="1332.1" r="3.5" fill="#ffd700" fill-opacity="0.8"/>
<circle cx="659.5" cy="1332.1" r="2.5" fill="#ff0000" fill-opacity="0.8"/>
<circle cx="634.4" cy="1358.5" r="8.4" fill="#87ceeb" fill-opacity="0.8"/>
<circle cx="645.6" cy="1358.5" r="7.5" fill="#ffd700" fill-opacity="0.8"/>
<circle cx="659.5" cy="1358.5" r="4" fill="#ff0000" fill-opacity="0.8"/>
<circle cx="676.2" cy="1358.5" r="10" fill="#ff00ff" fill-opacity="0.8"/>
<circle cx="688.7" cy="1358.5" r="10" fill="#800080" fill-opacity="0.8"/>
<circle cx="634.4" cy="1384.8" r="10" fill="#87ceeb" fill-opacity="0.8"/>
<circle cx="645.6" cy="1384.8" r="6" fill="#ffd700" fill-opacity="0.8"/>
<circle cx="676.2" cy="1384.8" r="8" fill="#ff00ff" fill-opacity="0.8"/>
<circle cx="688.7" cy="1384.8" r="8" fill="#800080" fill-opacity="0.8"/>
<circle cx="634.4" cy="1411.2" r="8" fill="#87ceeb" fill-opacity="0.8"/>
<circle cx="645.6" cy="1411.2" r="2.5" fill="#ffd700" fill-opacity="0.8"/>
<circle cx="676.2" cy="1411.2" r="10.5" fill="#ff00ff" fill-opacity="0.8"/>
<circle cx="688.7" cy="1411.2" r="10.5" fill="#800080" fill-opacity="0.8"/>
<circle cx="634.4" cy="1437.6" r="8" fill="#87ceeb" fill-opacity="0.8"/>
<circle cx="645.6" cy="1437.6" r="5" fill="#ffd700" fill-opacity="0.8"/>
<circle cx="676.2" cy="1437.6" r="9.5" fill="#ff00ff" fill-opacity="0.8"/>
<circle cx="688.7" cy="1437.6" r="9.5" fill="#800080" fill-opacity="0.8"/>
<circle cx="634.4" cy="1463.9" r="3.3" fill="#87ceeb" fill-opacity="0.8"/>
<circle cx="634.4" cy="1490.3" r="3.3" fill="#87ceeb" fill-opacity="0.8"/>
<circle cx="634.4" cy="1543.0" r="4" fill="#87ceeb" fill-opacity="0.8"/>
<circle cx="645.6" cy="1543.0" r="2.3" fill="#ffd700" fill-opacity="0.8"/>
<circle cx="634.4" cy="1569.4" r="2.2" fill="#87ceeb" fill-opacity="0.8"/>
<circle cx="867.9" cy="1015.7" r="3.3" fill="#87ceeb" fill-opacity="0.8"/>
<circle cx="867.9" cy="1068.5" r="3.3" fill="#87ceeb" fill-opacity="0.8"/>
<circle cx="867.9" cy="1173.9" r="9.6" fill="#87ceeb" fill-opacity="0.8"/>
<circle cx="879.1" cy="1173.9" r="5.6" fill="#ffd700" fill-opacity="0.8"/>
<circle cx="867.9" cy="1200.3" r="7.5" fill="#87ceeb" fill-opacity="0.8"/>
<circle cx="879.1" cy="1200.3" r="4.9" fill="#ffd700" fill-opacity="0.8"/>
<circle cx="893.0" cy="1200.3" r="2.4" fill="#ff0000" fill-opacity="0.8"/>
<circle cx="867.9" cy="1226.7" r="7.5" fill="#87ceeb" fill-opacity="0.8"/>
<circle cx="879.1" cy="1226.7" r="5.6" fill="#ffd700" fill-opacity="0.8"/>
<circle cx="867.9" cy="1279.4" r="3.3" fill="#87ceeb" fill-opacity="0.8"/>
<circle cx="879.1" cy="1279.4" r="2.4" fill="#ffd700" fill-opacity="0.8"/>
<circle cx="867.9" cy="1305.7" r="2.2" fill="#87ceeb" fill-opacity="0.8"/>
<circle cx="867.9" cy="1332.1" r="3.5" fill="#87ceeb" fill-opacity="0.8"/>
<circle cx="867.9" cy="1358.5" r="2.3" fill="#87ceeb" fill-opacity="0.8"/>
<circle cx="879.1" cy="1358.5" r="2.5" fill="#ffd700" fill-opacity="0.8"/>
<circle cx="867.9" cy="1384.8" r="7" fill="#87ceeb" fill-opacity="0.8"/>
<circle cx="879.1" cy="1384.8" r="3.5" fill="#ffd700" fill-opacity="0.8"/>
<circle cx="917.5" cy="1384.8" r="2.5" fill="#008000" fill-opacity="0.8"/>
<circle cx="867.9" cy="1411.2" r="3.5" fill="#87ceeb" fill-opacity="0.8"/>
<circle cx="879.1" cy="1411.2" r="2.5" fill="#ffd700" fill-opacity="0.8"/>
<circle cx="867.9" cy="1437.6" r="2.2" fill="#87ceeb" fill-opacity="0.8"/>
<circle cx="867.9" cy="1516.7" r="6.5" fill="#87ceeb" fill-opacity="0.8"/>
<circle cx="879.1" cy="1516.7" r="4" fill="#ffd700" fill-opacity="0.8"/>
<circle cx="867.9" cy="1543.0" r="6.3" fill="#87ceeb" fill-opacity="0.8"/>
<circle cx="1101.4" cy="963.0" r="2.3" fill="#87ceeb" fill-opacity="0.8"/>
<circle cx="1112.6" cy="963.0" r="2.5" fill="#ffd700" fill-opacity="0.8"/>
<circle cx="1101.4" cy="1015.7" r="2.2" fill="#87ceeb" fill-opacity="0.8"/>
<circle cx="1101.4" cy="1121.2" r="3.5" fill="#87ceeb" fill-opacity="0.8"/>
<circle cx="1101.4" cy="1147.6" r="7.7" fill="#87ceeb" fill-opacity="0.8"/>
<circle cx="1112.6" cy="1147.6" r="3.3" fill="#ffd700" fill-opacity="0.8"/>
<circle cx="1143.2" cy="1147.6" r="2.5" fill="#ff00ff" fill-opacity="0.8"/>
<circle cx="1155.7" cy="1147.6" r="2.5" fill="#800080" fill-opacity="0.8"/>
<circle cx="1101.4" cy="1200.3" r="8.4" fill="#87ceeb" fill-opacity="0.8"/>
<circle cx="1112.6" cy="1200.3" r="3.3" fill="#ffd700" fill-opacity="0.8"/>
<circle cx="1143.2" cy="1200.3" r="4" fill="#ff00ff" fill-opacity="0.8"/>
<circle cx="1155.7" cy="1200.3" r="4.2" fill="#800080" fill-opacity="0.8"/>
<circle cx="1101.4" cy="1226.7" r="6.6" fill="#87ceeb" fill-opacity="0.8"/>
<circle cx="1112.6" cy="1226.7" r="4" fill="#ffd700" fill-opacity="0.8"/>
<circle cx="1101.4" cy="1253.0" r="8.4" fill="#87ceeb" fill-opacity="0.8"/>
<circle cx="1112.6" cy="1253.0" r="5" fill="#ffd700" fill-opacity="0.8"/>
<circle cx="1101.4" cy="1279.4" r="11" fill="#87ceeb" fill-opacity="0.8"/>
<circle cx="1112.6" cy="1279.4" r="7.3" fill="#ffd700" fill-opacity="0.8"/>
<circle cx="1143.2" cy="1279.4" r="4.5" fill="#ff00ff" fill-opacity="0.8"/>
<circle cx="1155.7" cy="1279.4" r="4.5" fill="#800080" fill-opacity="0.8"/>
<circle cx="1101.4" cy="1305.7" r="6" fill="#87ceeb" fill-opacity="0.8"/>
<circle cx="1112.6" cy="1305.7" r="3.8" fill="#ffd700" fill-opacity="0.8"/>
<circle cx="1101.4" cy="1332.1" r="4.4" fill="#87ceeb" fill-opacity="0.8"/>
<circle cx="1112.6" cy="1332.1" r="2.3" fill="#ffd700" fill-opacity="0.8"/>
<circle cx="1143.2" cy="1332.1" r="10" fill="#ff00ff" fill-opacity="0.8"/>
<circle cx="1155.7" cy="1332.1" r="10" fill="#800080" fill-opacity="0.8"/>
<circle cx="1101.4" cy="1358.5" r="6.5" fill="#87ceeb" fill-opacity="0.8"/>
<circle cx="1112.6" cy="1358.5" r="2.3" fill="#ffd700" fill-opacity="0.8"/>
<circle cx="1143.2" cy="1358.5" r="10.5" fill="#ff00ff" fill-opacity="0.8"/>
<circle cx="1155.7" cy="1358.5" r="10.5" fill="#800080" fill-opacity="0.8"/>
<circle cx="1101.4" cy="1411.2" r="6.3" fill="#87ceeb" fill-opacity="0.8"/>
<circle cx="1112.6" cy="1411.2" r="4.5" fill="#ffd700" fill-opacity="0.8"/>
<circle cx="1101.4" cy="1437.6" r="8" fill="#87ceeb" fill-opacity="0.8"/>
<circle cx="1112.6" cy="1437.6" r="4" fill="#ffd700" fill-opacity="0.8"/>
<circle cx="1101.4" cy="1463.9" r="3.3" fill="#87ceeb" fill-opacity="0.8"/>
<circle cx="1112.6" cy="1463.9" r="2.3" fill="#ffd700" fill-opacity="0.8"/>
<circle cx="1334.9" cy="963.0" r="3.5" fill="#87ceeb" fill-opacity="0.8"/>
<circle cx="1334.9" cy="1015.7" r="3.5" fill="#87ceeb" fill-opacity="0.8"/>
<circle cx="1334.9" cy="1121.2" r="2.3" fill="#87ceeb" fill-opacity="0.8"/>
<circle cx="1334.9" cy="1147.6" r="6.3" fill="#87ceeb" fill-opacity="0.8"/>
<circle cx="1346.1" cy="1147.6" r="4" fill="#ffd700" fill-opacity="0.8"/>
<circle cx="1376.7" cy="1147.6" r="2.3" fill="#ff00ff" fill-opacity="0.8"/>
<circle cx="1389.2" cy="1147.6" r="2.3" fill="#800080" fill-opacity="0.8"/>
<circle cx="1334.9" cy="1173.9" r="5" fill="#87ceeb" fill-opacity="0.8"/>
<circle cx="1346.1" cy="1173.9" r="5" fill="#ffd700" fill-opacity="0.8"/>
<circle cx="1334.9" cy="1200.3" r="7" fill="#87ceeb" fill-opacity="0.8"/>
<circle cx="1334.9" cy="1226.7" r="4" fill="#87ceeb" fill-opacity="0.8"/>
<circle cx="1346.1" cy="1226.7" r="2.3" fill="#ffd700" fill-opacity="0.8"/>
<circle cx="1334.9" cy="1253.0" r="2.3" fill="#87ceeb" fill-opacity="0.8"/>
<circle cx="1346.1" cy="1253.0" r="2.3" fill="#ffd700" fill-opacity="0.8"/>
<circle cx="1334.9" cy="1279.4" r="8" fill="#87ceeb" fill-opacity="0.8"/>
<circle cx="1346.1" cy="1279.4" r="5" fill="#ffd700" fill-opacity="0.8"/>
<circle cx="1334.9" cy="1305.7" r="9.4" fill="#87ceeb" fill-opacity="0.8"/>
<circle cx="1346.1" cy="1305.7" r="5" fill="#ffd700" fill-opacity="0.8"/>
<circle cx="1334.9" cy="1332.1" r="4.4" fill="#87ceeb" fill-opacity="0.8"/>
<circle cx="1334.9" cy="1358.5" r="3.8" fill="#87ceeb" fill-opacity="0.8"/>
<circle cx="1334.9" cy="1384.8" r="6.6" fill="#87ceeb" fill-opacity="0.8"/>
<circle cx="1346.1" cy="1384.8" r="4.7" fill="#ffd700" fill-opacity="0.8"/>
<circle cx="1376.7" cy="1384.8" r="2.3" fill="#ff00ff" fill-opacity="0.8"/>
<circle cx="1389.2" cy="1384.8" r="2.5" fill="#800080" fill-opacity="0.8"/>
<circle cx="1334.9" cy="1411.2" r="3.3" fill="#87ceeb" fill-opacity="0.8"/>
<circle cx="1346.1" cy="1411.2" r="2.3" fill="#ffd700" fill-opacity="0.8"/>
<rect x="1403.8" y="940.1" width="200.3" height="177.6" rx="4" fill="#fff" stroke="#d0d0d0" stroke-width="1.2"/>
<circle cx="1431" cy="955.8" r="8.6" fill="#ff0000"/>
<text x="1466.7" y="962.8" font-size="19.2" text-anchor="start" font-family='"DejaVu Serif","Liberation Serif",serif' fill="#111" stroke="#111" stroke-width="0.35">IN VEHICLE</text>
<circle cx="1431" cy="984.5" r="8.6" fill="#008000"/>
<text x="1466.7" y="991.5" font-size="19.2" text-anchor="start" font-family='"DejaVu Serif","Liberation Serif",serif' fill="#111" stroke="#111" stroke-width="0.35">ON BICYCLE</text>
<circle cx="1431" cy="1013.3" r="8.6" fill="#ff00ff"/>
<text x="1466.7" y="1020.3" font-size="19.2" text-anchor="start" font-family='"DejaVu Serif","Liberation Serif",serif' fill="#111" stroke="#111" stroke-width="0.35">ON FOOT</text>
<circle cx="1431" cy="1042.0" r="8.6" fill="#87ceeb"/>
<text x="1466.7" y="1049.0" font-size="19.2" text-anchor="start" font-family='"DejaVu Serif","Liberation Serif",serif' fill="#111" stroke="#111" stroke-width="0.35">STILL</text>
<circle cx="1431" cy="1070.8" r="8.6" fill="#ffd700"/>
<text x="1466.7" y="1077.8" font-size="19.2" text-anchor="start" font-family='"DejaVu Serif","Liberation Serif",serif' fill="#111" stroke="#111" stroke-width="0.35">TILTING</text>
<circle cx="1431" cy="1099.5" r="8.6" fill="#800080"/>
<text x="1466.7" y="1106.5" font-size="19.2" text-anchor="start" font-family='"DejaVu Serif","Liberation Serif",serif' fill="#111" stroke="#111" stroke-width="0.35">WALKING</text>
</g>
<g id="panelC">
<text x="8.7" y="1715.4" font-size="32" text-anchor="start" font-family='"Liberation Sans","DejaVu Sans",sans-serif' fill="#000" stroke="#000" stroke-width="0.2" font-weight="bold">C</text>
<path d="M117.6 1752V2474" stroke="#ebebeb" stroke-width="2.2"/>
<path d="M353.2 1752V2474" stroke="#ebebeb" stroke-width="2.2"/>
<path d="M588.8 1783V2474" stroke="#ebebeb" stroke-width="2.2"/>
<path d="M824.3 1783V2474" stroke="#ebebeb" stroke-width="2.2"/>
<path d="M1059.9 1752V2474" stroke="#ebebeb" stroke-width="2.2"/>
<path d="M1295.5 1752V2474" stroke="#ebebeb" stroke-width="2.2"/>
<path d="M59.4 1879.2H1366.5" stroke="#ebebeb" stroke-width="2.3"/>
<path d="M59.4 2026.4H1366.5" stroke="#ebebeb" stroke-width="2.3"/>
<path d="M59.4 2173.5H1366.5" stroke="#ebebeb" stroke-width="2.3"/>
<path d="M59.4 2320.7H1366.5" stroke="#ebebeb" stroke-width="2.3"/>
<path d="M45.3 2467.5H1366.5" stroke="#ebebeb" stroke-width="1.4"/>
<circle cx="148.5" cy="1792.3" r="6.5" fill="#C77CFF" fill-opacity="0.58" stroke="#C77CFF" stroke-opacity="0.55" stroke-width="1.4"/>
<circle cx="150.3" cy="1791.6" r="6.5" fill="#7f7f7f" fill-opacity="0.58" stroke="#7f7f7f" stroke-opacity="0.55" stroke-width="1.4"/>
<circle cx="152.0" cy="1794.4" r="6.5" fill="#7f7f7f" fill-opacity="0.58" stroke="#7f7f7f" stroke-opacity="0.55" stroke-width="1.4"/>
<circle cx="173.4" cy="1845.5" r="6.5" fill="#F8766D" fill-opacity="0.58" stroke="#F8766D" stroke-opacity="0.55" stroke-width="1.4"/>
<circle cx="203.1" cy="1873.4" r="6.5" fill="#F8766D" fill-opacity="0.58" stroke="#F8766D" stroke-opacity="0.55" stroke-width="1.4"/>
<circle cx="245.0" cy="1889.5" r="6.5" fill="#F8766D" fill-opacity="0.58" stroke="#F8766D" stroke-opacity="0.55" stroke-width="1.4"/>
<circle cx="183.5" cy="1911.9" r="6.5" fill="#F8766D" fill-opacity="0.58" stroke="#F8766D" stroke-opacity="0.55" stroke-width="1.4"/>
<circle cx="234.5" cy="1911.2" r="6.5" fill="#7f7f7f" fill-opacity="0.58" stroke="#7f7f7f" stroke-opacity="0.55" stroke-width="1.4"/>
<circle cx="244.3" cy="1921.7" r="6.5" fill="#F8766D" fill-opacity="0.58" stroke="#F8766D" stroke-opacity="0.55" stroke-width="1.4"/>
<circle cx="258.7" cy="1919.9" r="6.5" fill="#C77CFF" fill-opacity="0.58" stroke="#C77CFF" stroke-opacity="0.55" stroke-width="1.4"/>
<circle cx="255.2" cy="1928.0" r="6.5" fill="#C77CFF" fill-opacity="0.58" stroke="#C77CFF" stroke-opacity="0.55" stroke-width="1.4"/>
<circle cx="259.3" cy="1922.4" r="6.5" fill="#00BFC4" fill-opacity="0.58" stroke="#00BFC4" stroke-opacity="0.55" stroke-width="1.4"/>
<circle cx="269.8" cy="1919.6" r="6.5" fill="#F8766D" fill-opacity="0.58" stroke="#F8766D" stroke-opacity="0.55" stroke-width="1.4"/>
<circle cx="271.9" cy="1931.4" r="6.5" fill="#C77CFF" fill-opacity="0.58" stroke="#C77CFF" stroke-opacity="0.55" stroke-width="1.4"/>
<circle cx="282.4" cy="1930.7" r="6.5" fill="#F8766D" fill-opacity="0.58" stroke="#F8766D" stroke-opacity="0.55" stroke-width="1.4"/>
<circle cx="302.0" cy="1940.9" r="6.5" fill="#7f7f7f" fill-opacity="0.58" stroke="#7f7f7f" stroke-opacity="0.55" stroke-width="1.4"/>
<circle cx="302.0" cy="1940.9" r="6.5" fill="#F8766D" fill-opacity="0.58" stroke="#F8766D" stroke-opacity="0.55" stroke-width="1.4"/>
<circle cx="311.1" cy="1946.8" r="6.5" fill="#C77CFF" fill-opacity="0.58" stroke="#C77CFF" stroke-opacity="0.55" stroke-width="1.4"/>
<circle cx="327.9" cy="1951.7" r="6.5" fill="#F8766D" fill-opacity="0.58" stroke="#F8766D" stroke-opacity="0.55" stroke-width="1.4"/>
<circle cx="292.2" cy="1955.2" r="6.5" fill="#F8766D" fill-opacity="0.58" stroke="#F8766D" stroke-opacity="0.55" stroke-width="1.4"/>
<circle cx="251.7" cy="1948.9" r="6.5" fill="#F8766D" fill-opacity="0.58" stroke="#F8766D" stroke-opacity="0.55" stroke-width="1.4"/>
<circle cx="263.9" cy="1949.6" r="6.5" fill="#F8766D" fill-opacity="0.58" stroke="#F8766D" stroke-opacity="0.55" stroke-width="1.4"/>
<circle cx="265.6" cy="1949.6" r="6.5" fill="#F8766D" fill-opacity="0.58" stroke="#F8766D" stroke-opacity="0.55" stroke-width="1.4"/>
<circle cx="195.0" cy="1958.7" r="6.5" fill="#F8766D" fill-opacity="0.58" stroke="#F8766D" stroke-opacity="0.55" stroke-width="1.4"/>
<circle cx="244.7" cy="1958.4" r="6.5" fill="#C77CFF" fill-opacity="0.58" stroke="#C77CFF" stroke-opacity="0.55" stroke-width="1.4"/>
<circle cx="249.9" cy="1965.4" r="6.5" fill="#C77CFF" fill-opacity="0.58" stroke="#C77CFF" stroke-opacity="0.55" stroke-width="1.4"/>
<circle cx="276.1" cy="1964.7" r="6.5" fill="#F8766D" fill-opacity="0.58" stroke="#F8766D" stroke-opacity="0.55" stroke-width="1.4"/>
<circle cx="277.9" cy="1968.8" r="6.5" fill="#7f7f7f" fill-opacity="0.58" stroke="#7f7f7f" stroke-opacity="0.55" stroke-width="1.4"/>
<circle cx="235.9" cy="1973.4" r="6.5" fill="#00BFC4" fill-opacity="0.58" stroke="#00BFC4" stroke-opacity="0.55" stroke-width="1.4"/>
<circle cx="241.2" cy="1975.8" r="6.5" fill="#7f7f7f" fill-opacity="0.58" stroke="#7f7f7f" stroke-opacity="0.55" stroke-width="1.4"/>
<circle cx="244.7" cy="1971.3" r="6.5" fill="#00BFC4" fill-opacity="0.58" stroke="#00BFC4" stroke-opacity="0.55" stroke-width="1.4"/>
<circle cx="246.4" cy="1979.3" r="6.5" fill="#7f7f7f" fill-opacity="0.58" stroke="#7f7f7f" stroke-opacity="0.55" stroke-width="1.4"/>
<circle cx="244.7" cy="1976.9" r="6.5" fill="#C77CFF" fill-opacity="0.58" stroke="#C77CFF" stroke-opacity="0.55" stroke-width="1.4"/>
<circle cx="263.9" cy="1982.1" r="6.5" fill="#7CAE00" fill-opacity="0.58" stroke="#7CAE00" stroke-opacity="0.55" stroke-width="1.4"/>
<circle cx="288.4" cy="1971.3" r="6.5" fill="#00BFC4" fill-opacity="0.58" stroke="#00BFC4" stroke-opacity="0.55" stroke-width="1.4"/>
<circle cx="290.1" cy="1974.1" r="6.5" fill="#7f7f7f" fill-opacity="0.58" stroke="#7f7f7f" stroke-opacity="0.55" stroke-width="1.4"/>
<circle cx="283.1" cy="1982.8" r="6.5" fill="#F8766D" fill-opacity="0.58" stroke="#F8766D" stroke-opacity="0.55" stroke-width="1.4"/>
<circle cx="288.4" cy="1977.6" r="6.5" fill="#C77CFF" fill-opacity="0.58" stroke="#C77CFF" stroke-opacity="0.55" stroke-width="1.4"/>
<circle cx="295.4" cy="1981.1" r="6.5" fill="#C77CFF" fill-opacity="0.58" stroke="#C77CFF" stroke-opacity="0.55" stroke-width="1.4"/>
<circle cx="304.8" cy="1981.1" r="6.5" fill="#C77CFF" fill-opacity="0.58" stroke="#C77CFF" stroke-opacity="0.55" stroke-width="1.4"/>
<circle cx="316.3" cy="1983.5" r="6.5" fill="#C77CFF" fill-opacity="0.58" stroke="#C77CFF" stroke-opacity="0.55" stroke-width="1.4"/>
<circle cx="262.1" cy="1998.6" r="6.5" fill="#F8766D" fill-opacity="0.58" stroke="#F8766D" stroke-opacity="0.55" stroke-width="1.4"/>
<circle cx="265.6" cy="2003.8" r="6.5" fill="#F8766D" fill-opacity="0.58" stroke="#F8766D" stroke-opacity="0.55" stroke-width="1.4"/>
<circle cx="267.4" cy="2007.3" r="6.5" fill="#F8766D" fill-opacity="0.58" stroke="#F8766D" stroke-opacity="0.55" stroke-width="1.4"/>
<circle cx="272.6" cy="2007.3" r="6.5" fill="#7f7f7f" fill-opacity="0.58" stroke="#7f7f7f" stroke-opacity="0.55" stroke-width="1.4"/>
<circle cx="283.8" cy="2023.7" r="6.5" fill="#F8766D" fill-opacity="0.58" stroke="#F8766D" stroke-opacity="0.55" stroke-width="1.4"/>
<circle cx="284.9" cy="2014.3" r="6.5" fill="#F8766D" fill-opacity="0.58" stroke="#F8766D" stroke-opacity="0.55" stroke-width="1.4"/>
<circle cx="207.6" cy="1997.9" r="6.5" fill="#F8766D" fill-opacity="0.58" stroke="#F8766D" stroke-opacity="0.55" stroke-width="1.4"/>
<circle cx="350.6" cy="1994.0" r="6.5" fill="#7f7f7f" fill-opacity="0.58" stroke="#7f7f7f" stroke-opacity="0.55" stroke-width="1.4"/>
<circle cx="346.0" cy="2003.8" r="6.5" fill="#F8766D" fill-opacity="0.58" stroke="#F8766D" stroke-opacity="0.55" stroke-width="1.4"/>
<circle cx="346.0" cy="2000.3" r="6.5" fill="#7f7f7f" fill-opacity="0.58" stroke="#7f7f7f" stroke-opacity="0.55" stroke-width="1.4"/>
<circle cx="347.1" cy="2000.3" r="6.5" fill="#C77CFF" fill-opacity="0.58" stroke="#C77CFF" stroke-opacity="0.55" stroke-width="1.4"/>
<circle cx="359.3" cy="2013.9" r="6.5" fill="#F8766D" fill-opacity="0.58" stroke="#F8766D" stroke-opacity="0.55" stroke-width="1.4"/>
<circle cx="368.1" cy="2017.4" r="6.5" fill="#F8766D" fill-opacity="0.58" stroke="#F8766D" stroke-opacity="0.55" stroke-width="1.4"/>
<circle cx="398.1" cy="2018.5" r="6.5" fill="#C77CFF" fill-opacity="0.58" stroke="#C77CFF" stroke-opacity="0.55" stroke-width="1.4"/>
<circle cx="332.8" cy="2022.3" r="6.5" fill="#7f7f7f" fill-opacity="0.58" stroke="#7f7f7f" stroke-opacity="0.55" stroke-width="1.4"/>
<circle cx="325.1" cy="2027.9" r="6.5" fill="#F8766D" fill-opacity="0.58" stroke="#F8766D" stroke-opacity="0.55" stroke-width="1.4"/>
<circle cx="365.6" cy="1929.3" r="6.5" fill="#F8766D" fill-opacity="0.58" stroke="#F8766D" stroke-opacity="0.55" stroke-width="1.4"/>
<circle cx="366.3" cy="1932.1" r="6.5" fill="#F8766D" fill-opacity="0.58" stroke="#F8766D" stroke-opacity="0.55" stroke-width="1.4"/>
<circle cx="369.5" cy="1937.4" r="6.5" fill="#C77CFF" fill-opacity="0.58" stroke="#C77CFF" stroke-opacity="0.55" stroke-width="1.4"/>
<circle cx="412.4" cy="1909.1" r="6.5" fill="#F8766D" fill-opacity="0.58" stroke="#F8766D" stroke-opacity="0.55" stroke-width="1.4"/>
<circle cx="436.9" cy="1900.0" r="6.5" fill="#7f7f7f" fill-opacity="0.58" stroke="#7f7f7f" stroke-opacity="0.55" stroke-width="1.4"/>
<circle cx="442.2" cy="1902.4" r="6.5" fill="#F8766D" fill-opacity="0.58" stroke="#F8766D" stroke-opacity="0.55" stroke-width="1.4"/>
<circle cx="472.9" cy="1895.8" r="6.5" fill="#F8766D" fill-opacity="0.58" stroke="#F8766D" stroke-opacity="0.55" stroke-width="1.4"/>
<circle cx="521.1" cy="1890.9" r="6.5" fill="#F8766D" fill-opacity="0.58" stroke="#F8766D" stroke-opacity="0.55" stroke-width="1.4"/>
<circle cx="374.0" cy="2041.5" r="6.5" fill="#00BFC4" fill-opacity="0.58" stroke="#00BFC4" stroke-opacity="0.55" stroke-width="1.4"/>
<circle cx="375.7" cy="2043.3" r="6.5" fill="#7f7f7f" fill-opacity="0.58" stroke="#7f7f7f" stroke-opacity="0.55" stroke-width="1.4"/>
<circle cx="375.7" cy="2044.0" r="6.5" fill="#F8766D" fill-opacity="0.58" stroke="#F8766D" stroke-opacity="0.55" stroke-width="1.4"/>
<circle cx="286.6" cy="2047.5" r="6.5" fill="#F8766D" fill-opacity="0.58" stroke="#F8766D" stroke-opacity="0.55" stroke-width="1.4"/>
<circle cx="286.6" cy="2048.5" r="6.5" fill="#7f7f7f" fill-opacity="0.58" stroke="#7f7f7f" stroke-opacity="0.55" stroke-width="1.4"/>
<circle cx="287.3" cy="2058.0" r="6.5" fill="#F8766D" fill-opacity="0.58" stroke="#F8766D" stroke-opacity="0.55" stroke-width="1.4"/>
<circle cx="288.4" cy="2065.0" r="6.5" fill="#F8766D" fill-opacity="0.58" stroke="#F8766D" stroke-opacity="0.55" stroke-width="1.4"/>
<circle cx="284.9" cy="2073.7" r="6.5" fill="#F8766D" fill-opacity="0.58" stroke="#F8766D" stroke-opacity="0.55" stroke-width="1.4"/>
<circle cx="270.9" cy="2056.9" r="6.5" fill="#7f7f7f" fill-opacity="0.58" stroke="#7f7f7f" stroke-opacity="0.55" stroke-width="1.4"/>
<circle cx="316.3" cy="2054.5" r="6.5" fill="#00BFC4" fill-opacity="0.58" stroke="#00BFC4" stroke-opacity="0.55" stroke-width="1.4"/>
<circle cx="325.8" cy="2051.0" r="6.5" fill="#C77CFF" fill-opacity="0.58" stroke="#C77CFF" stroke-opacity="0.55" stroke-width="1.4"/>
<circle cx="318.1" cy="2059.7" r="6.5" fill="#F8766D" fill-opacity="0.58" stroke="#F8766D" stroke-opacity="0.55" stroke-width="1.4"/>
<circle cx="326.8" cy="2061.5" r="6.5" fill="#C77CFF" fill-opacity="0.58" stroke="#C77CFF" stroke-opacity="0.55" stroke-width="1.4"/>
<circle cx="312.8" cy="2061.5" r="6.5" fill="#F8766D" fill-opacity="0.58" stroke="#F8766D" stroke-opacity="0.55" stroke-width="1.4"/>
<circle cx="338.3" cy="2069.5" r="6.5" fill="#F8766D" fill-opacity="0.58" stroke="#F8766D" stroke-opacity="0.55" stroke-width="1.4"/>
<circle cx="213.2" cy="2061.5" r="6.5" fill="#F8766D" fill-opacity="0.58" stroke="#F8766D" stroke-opacity="0.55" stroke-width="1.4"/>
<circle cx="219.5" cy="2064.3" r="6.5" fill="#7f7f7f" fill-opacity="0.58" stroke="#7f7f7f" stroke-opacity="0.55" stroke-width="1.4"/>
<circle cx="295.4" cy="2075.5" r="6.5" fill="#7f7f7f" fill-opacity="0.58" stroke="#7f7f7f" stroke-opacity="0.55" stroke-width="1.4"/>
<circle cx="373.3" cy="2077.2" r="6.5" fill="#00BFC4" fill-opacity="0.58" stroke="#00BFC4" stroke-opacity="0.55" stroke-width="1.4"/>
<circle cx="265.6" cy="2090.2" r="6.5" fill="#F8766D" fill-opacity="0.58" stroke="#F8766D" stroke-opacity="0.55" stroke-width="1.4"/>
<circle cx="268.4" cy="2093.7" r="6.5" fill="#7f7f7f" fill-opacity="0.58" stroke="#7f7f7f" stroke-opacity="0.55" stroke-width="1.4"/>
<circle cx="276.1" cy="2085.0" r="6.5" fill="#F8766D" fill-opacity="0.58" stroke="#F8766D" stroke-opacity="0.55" stroke-width="1.4"/>
<circle cx="284.9" cy="2083.2" r="6.5" fill="#F8766D" fill-opacity="0.58" stroke="#F8766D" stroke-opacity="0.55" stroke-width="1.4"/>
<circle cx="291.9" cy="2081.5" r="6.5" fill="#F8766D" fill-opacity="0.58" stroke="#F8766D" stroke-opacity="0.55" stroke-width="1.4"/>
<circle cx="293.6" cy="2090.2" r="6.5" fill="#F8766D" fill-opacity="0.58" stroke="#F8766D" stroke-opacity="0.55" stroke-width="1.4"/>
<circle cx="281.4" cy="2094.7" r="6.5" fill="#C77CFF" fill-opacity="0.58" stroke="#C77CFF" stroke-opacity="0.55" stroke-width="1.4"/>
<circle cx="281.4" cy="2095.4" r="6.5" fill="#F8766D" fill-opacity="0.58" stroke="#F8766D" stroke-opacity="0.55" stroke-width="1.4"/>
<circle cx="284.9" cy="2102.4" r="6.5" fill="#F8766D" fill-opacity="0.58" stroke="#F8766D" stroke-opacity="0.55" stroke-width="1.4"/>
<circle cx="288.4" cy="2105.9" r="6.5" fill="#F8766D" fill-opacity="0.58" stroke="#F8766D" stroke-opacity="0.55" stroke-width="1.4"/>
<circle cx="305.8" cy="2097.2" r="6.5" fill="#7f7f7f" fill-opacity="0.58" stroke="#7f7f7f" stroke-opacity="0.55" stroke-width="1.4"/>
<circle cx="331.4" cy="2095.4" r="6.5" fill="#C77CFF" fill-opacity="0.58" stroke="#C77CFF" stroke-opacity="0.55" stroke-width="1.4"/>
<circle cx="331.4" cy="2095.4" r="6.5" fill="#7f7f7f" fill-opacity="0.58" stroke="#7f7f7f" stroke-opacity="0.55" stroke-width="1.4"/>
<circle cx="340.8" cy="2079.7" r="6.5" fill="#C77CFF" fill-opacity="0.58" stroke="#C77CFF" stroke-opacity="0.55" stroke-width="1.4"/>
<circle cx="340.8" cy="2079.7" r="6.5" fill="#7f7f7f" fill-opacity="0.58" stroke="#7f7f7f" stroke-opacity="0.55" stroke-width="1.4"/>
<circle cx="363.5" cy="2082.2" r="6.5" fill="#7f7f7f" fill-opacity="0.58" stroke="#7f7f7f" stroke-opacity="0.55" stroke-width="1.4"/>
<circle cx="350.6" cy="2085.0" r="6.5" fill="#F8766D" fill-opacity="0.58" stroke="#F8766D" stroke-opacity="0.55" stroke-width="1.4"/>
<circle cx="350.6" cy="2085.0" r="6.5" fill="#F8766D" fill-opacity="0.58" stroke="#F8766D" stroke-opacity="0.55" stroke-width="1.4"/>
<circle cx="354.1" cy="2104.9" r="6.5" fill="#F8766D" fill-opacity="0.58" stroke="#F8766D" stroke-opacity="0.55" stroke-width="1.4"/>
<circle cx="404.1" cy="2115.0" r="6.5" fill="#7f7f7f" fill-opacity="0.58" stroke="#7f7f7f" stroke-opacity="0.55" stroke-width="1.4"/>
<circle cx="220.6" cy="2112.2" r="6.5" fill="#00BFC4" fill-opacity="0.58" stroke="#00BFC4" stroke-opacity="0.55" stroke-width="1.4"/>
<circle cx="220.6" cy="2112.2" r="6.5" fill="#7f7f7f" fill-opacity="0.58" stroke="#7f7f7f" stroke-opacity="0.55" stroke-width="1.4"/>
<circle cx="244.0" cy="2121.3" r="6.5" fill="#C77CFF" fill-opacity="0.58" stroke="#C77CFF" stroke-opacity="0.55" stroke-width="1.4"/>
<circle cx="278.6" cy="2115.7" r="6.5" fill="#C77CFF" fill-opacity="0.58" stroke="#C77CFF" stroke-opacity="0.55" stroke-width="1.4"/>
<circle cx="283.1" cy="2111.2" r="6.5" fill="#7f7f7f" fill-opacity="0.58" stroke="#7f7f7f" stroke-opacity="0.55" stroke-width="1.4"/>
<circle cx="297.1" cy="2114.7" r="6.5" fill="#C77CFF" fill-opacity="0.58" stroke="#C77CFF" stroke-opacity="0.55" stroke-width="1.4"/>
<circle cx="307.6" cy="2119.9" r="6.5" fill="#C77CFF" fill-opacity="0.58" stroke="#C77CFF" stroke-opacity="0.55" stroke-width="1.4"/>
<circle cx="325.1" cy="2116.4" r="6.5" fill="#C77CFF" fill-opacity="0.58" stroke="#C77CFF" stroke-opacity="0.55" stroke-width="1.4"/>
<circle cx="316.3" cy="2125.1" r="6.5" fill="#00BFC4" fill-opacity="0.58" stroke="#00BFC4" stroke-opacity="0.55" stroke-width="1.4"/>
<circle cx="326.8" cy="2123.4" r="6.5" fill="#00BFC4" fill-opacity="0.58" stroke="#00BFC4" stroke-opacity="0.55" stroke-width="1.4"/>
<circle cx="328.6" cy="2125.1" r="6.5" fill="#F8766D" fill-opacity="0.58" stroke="#F8766D" stroke-opacity="0.55" stroke-width="1.4"/>
<circle cx="326.8" cy="2133.9" r="6.5" fill="#00BFC4" fill-opacity="0.58" stroke="#00BFC4" stroke-opacity="0.55" stroke-width="1.4"/>
<circle cx="333.8" cy="2131.1" r="6.5" fill="#F8766D" fill-opacity="0.58" stroke="#F8766D" stroke-opacity="0.55" stroke-width="1.4"/>
<circle cx="316.3" cy="2132.1" r="6.5" fill="#00BFC4" fill-opacity="0.58" stroke="#00BFC4" stroke-opacity="0.55" stroke-width="1.4"/>
<circle cx="315.6" cy="2113.6" r="6.5" fill="#7f7f7f" fill-opacity="0.58" stroke="#7f7f7f" stroke-opacity="0.55" stroke-width="1.4"/>
<circle cx="315.6" cy="2113.6" r="6.5" fill="#7f7f7f" fill-opacity="0.58" stroke="#7f7f7f" stroke-opacity="0.55" stroke-width="1.4"/>
<circle cx="275.1" cy="2127.6" r="6.5" fill="#F8766D" fill-opacity="0.58" stroke="#F8766D" stroke-opacity="0.55" stroke-width="1.4"/>
<circle cx="267.4" cy="2131.1" r="6.5" fill="#7f7f7f" fill-opacity="0.58" stroke="#7f7f7f" stroke-opacity="0.55" stroke-width="1.4"/>
<circle cx="301.3" cy="2137.4" r="6.5" fill="#F8766D" fill-opacity="0.58" stroke="#F8766D" stroke-opacity="0.55" stroke-width="1.4"/>
<circle cx="301.3" cy="2137.4" r="6.5" fill="#F8766D" fill-opacity="0.58" stroke="#F8766D" stroke-opacity="0.55" stroke-width="1.4"/>
<circle cx="347.4" cy="2139.1" r="6.5" fill="#7f7f7f" fill-opacity="0.58" stroke="#7f7f7f" stroke-opacity="0.55" stroke-width="1.4"/>
<circle cx="292.6" cy="2159.1" r="6.5" fill="#C77CFF" fill-opacity="0.58" stroke="#C77CFF" stroke-opacity="0.55" stroke-width="1.4"/>
<circle cx="292.6" cy="2159.1" r="6.5" fill="#C77CFF" fill-opacity="0.58" stroke="#C77CFF" stroke-opacity="0.55" stroke-width="1.4"/>
<circle cx="295.4" cy="2173.0" r="6.5" fill="#C77CFF" fill-opacity="0.58" stroke="#C77CFF" stroke-opacity="0.55" stroke-width="1.4"/>
<circle cx="323.3" cy="2176.5" r="6.5" fill="#00BFC4" fill-opacity="0.58" stroke="#00BFC4" stroke-opacity="0.55" stroke-width="1.4"/>
<circle cx="323.3" cy="2176.5" r="6.5" fill="#00BFC4" fill-opacity="0.58" stroke="#00BFC4" stroke-opacity="0.55" stroke-width="1.4"/>
<circle cx="370.5" cy="2157.7" r="6.5" fill="#F8766D" fill-opacity="0.58" stroke="#F8766D" stroke-opacity="0.55" stroke-width="1.4"/>
<circle cx="378.2" cy="2166.4" r="6.5" fill="#C77CFF" fill-opacity="0.58" stroke="#C77CFF" stroke-opacity="0.55" stroke-width="1.4"/>
<circle cx="378.2" cy="2166.4" r="6.5" fill="#7f7f7f" fill-opacity="0.58" stroke="#7f7f7f" stroke-opacity="0.55" stroke-width="1.4"/>
<circle cx="161.1" cy="2161.8" r="6.5" fill="#7f7f7f" fill-opacity="0.58" stroke="#7f7f7f" stroke-opacity="0.55" stroke-width="1.4"/>
<circle cx="96.5" cy="2173.0" r="6.5" fill="#7f7f7f" fill-opacity="0.58" stroke="#7f7f7f" stroke-opacity="0.55" stroke-width="1.4"/>
<circle cx="96.5" cy="2173.0" r="6.5" fill="#7f7f7f" fill-opacity="0.58" stroke="#7f7f7f" stroke-opacity="0.55" stroke-width="1.4"/>
<circle cx="242.9" cy="2171.3" r="6.5" fill="#C77CFF" fill-opacity="0.58" stroke="#C77CFF" stroke-opacity="0.55" stroke-width="1.4"/>
<circle cx="240.5" cy="2177.6" r="6.5" fill="#F8766D" fill-opacity="0.58" stroke="#F8766D" stroke-opacity="0.55" stroke-width="1.4"/>
<circle cx="240.5" cy="2177.6" r="6.5" fill="#F8766D" fill-opacity="0.58" stroke="#F8766D" stroke-opacity="0.55" stroke-width="1.4"/>
<circle cx="248.9" cy="2184.6" r="6.5" fill="#F8766D" fill-opacity="0.58" stroke="#F8766D" stroke-opacity="0.55" stroke-width="1.4"/>
<circle cx="234.2" cy="2184.6" r="6.5" fill="#7f7f7f" fill-opacity="0.58" stroke="#7f7f7f" stroke-opacity="0.55" stroke-width="1.4"/>
<circle cx="234.2" cy="2184.6" r="6.5" fill="#C77CFF" fill-opacity="0.58" stroke="#C77CFF" stroke-opacity="0.55" stroke-width="1.4"/>
<circle cx="260.4" cy="2189.1" r="6.5" fill="#F8766D" fill-opacity="0.58" stroke="#F8766D" stroke-opacity="0.55" stroke-width="1.4"/>
<circle cx="233.5" cy="2198.5" r="6.5" fill="#7f7f7f" fill-opacity="0.58" stroke="#7f7f7f" stroke-opacity="0.55" stroke-width="1.4"/>
<circle cx="237.7" cy="2201.0" r="6.5" fill="#C77CFF" fill-opacity="0.58" stroke="#C77CFF" stroke-opacity="0.55" stroke-width="1.4"/>
<circle cx="237.7" cy="2201.0" r="6.5" fill="#C77CFF" fill-opacity="0.58" stroke="#C77CFF" stroke-opacity="0.55" stroke-width="1.4"/>
<circle cx="248.9" cy="2202.4" r="6.5" fill="#F8766D" fill-opacity="0.58" stroke="#F8766D" stroke-opacity="0.55" stroke-width="1.4"/>
<circle cx="248.9" cy="2202.4" r="6.5" fill="#7f7f7f" fill-opacity="0.58" stroke="#7f7f7f" stroke-opacity="0.55" stroke-width="1.4"/>
<circle cx="263.9" cy="2203.1" r="6.5" fill="#F8766D" fill-opacity="0.58" stroke="#F8766D" stroke-opacity="0.55" stroke-width="1.4"/>
<circle cx="289.8" cy="2203.4" r="6.5" fill="#F8766D" fill-opacity="0.58" stroke="#F8766D" stroke-opacity="0.55" stroke-width="1.4"/>
<circle cx="239.4" cy="2215.7" r="6.5" fill="#F8766D" fill-opacity="0.58" stroke="#F8766D" stroke-opacity="0.55" stroke-width="1.4"/>
<circle cx="261.1" cy="2216.0" r="6.5" fill="#7f7f7f" fill-opacity="0.58" stroke="#7f7f7f" stroke-opacity="0.55" stroke-width="1.4"/>
<circle cx="146.8" cy="2214.3" r="6.5" fill="#00BFC4" fill-opacity="0.58" stroke="#00BFC4" stroke-opacity="0.55" stroke-width="1.4"/>
<circle cx="146.8" cy="2214.3" r="6.5" fill="#C77CFF" fill-opacity="0.58" stroke="#C77CFF" stroke-opacity="0.55" stroke-width="1.4"/>
<circle cx="146.8" cy="2214.3" r="6.5" fill="#C77CFF" fill-opacity="0.58" stroke="#C77CFF" stroke-opacity="0.55" stroke-width="1.4"/>
<circle cx="240.1" cy="2247.8" r="6.5" fill="#F8766D" fill-opacity="0.58" stroke="#F8766D" stroke-opacity="0.55" stroke-width="1.4"/>
<circle cx="240.1" cy="2247.8" r="6.5" fill="#F8766D" fill-opacity="0.58" stroke="#F8766D" stroke-opacity="0.55" stroke-width="1.4"/>
<circle cx="372.9" cy="2279.3" r="6.5" fill="#C77CFF" fill-opacity="0.58" stroke="#C77CFF" stroke-opacity="0.55" stroke-width="1.4"/>
<circle cx="372.9" cy="2279.3" r="6.5" fill="#C77CFF" fill-opacity="0.58" stroke="#C77CFF" stroke-opacity="0.55" stroke-width="1.4"/>
<circle cx="178.3" cy="2303.1" r="6.5" fill="#7f7f7f" fill-opacity="0.58" stroke="#7f7f7f" stroke-opacity="0.55" stroke-width="1.4"/>
<circle cx="256.9" cy="2308.0" r="6.5" fill="#C77CFF" fill-opacity="0.58" stroke="#C77CFF" stroke-opacity="0.55" stroke-width="1.4"/>
<circle cx="254.5" cy="2306.6" r="6.5" fill="#F8766D" fill-opacity="0.58" stroke="#F8766D" stroke-opacity="0.55" stroke-width="1.4"/>
<circle cx="255.9" cy="2306.9" r="6.5" fill="#7f7f7f" fill-opacity="0.58" stroke="#7f7f7f" stroke-opacity="0.55" stroke-width="1.4"/>
<circle cx="305.8" cy="2399.9" r="6.5" fill="#7f7f7f" fill-opacity="0.58" stroke="#7f7f7f" stroke-opacity="0.55" stroke-width="1.4"/>
<circle cx="305.8" cy="2399.9" r="6.5" fill="#7f7f7f" fill-opacity="0.58" stroke="#7f7f7f" stroke-opacity="0.55" stroke-width="1.4"/>
<circle cx="305.8" cy="2399.9" r="6.5" fill="#7f7f7f" fill-opacity="0.58" stroke="#7f7f7f" stroke-opacity="0.55" stroke-width="1.4"/>
<circle cx="326.5" cy="2416.0" r="6.5" fill="#C77CFF" fill-opacity="0.58" stroke="#C77CFF" stroke-opacity="0.55" stroke-width="1.4"/>
<circle cx="566.9" cy="1887.3" r="6.5" fill="#F8766D" fill-opacity="0.58" stroke="#F8766D" stroke-opacity="0.55" stroke-width="1.4"/>
<circle cx="725.6" cy="1855.9" r="6.5" fill="#F8766D" fill-opacity="0.58" stroke="#F8766D" stroke-opacity="0.55" stroke-width="1.4"/>
<circle cx="768.6" cy="1830.0" r="6.5" fill="#F8766D" fill-opacity="0.58" stroke="#F8766D" stroke-opacity="0.55" stroke-width="1.4"/>
<circle cx="840.6" cy="1803.8" r="6.5" fill="#F8766D" fill-opacity="0.58" stroke="#F8766D" stroke-opacity="0.55" stroke-width="1.4"/>
<circle cx="858.8" cy="1803.8" r="6.5" fill="#F8766D" fill-opacity="0.58" stroke="#F8766D" stroke-opacity="0.55" stroke-width="1.4"/>
<circle cx="853.9" cy="1818.1" r="6.5" fill="#7f7f7f" fill-opacity="0.58" stroke="#7f7f7f" stroke-opacity="0.55" stroke-width="1.4"/>
<circle cx="896.5" cy="1867.8" r="6.5" fill="#F8766D" fill-opacity="0.58" stroke="#F8766D" stroke-opacity="0.55" stroke-width="1.4"/>
<circle cx="925.2" cy="1883.2" r="6.5" fill="#F8766D" fill-opacity="0.58" stroke="#F8766D" stroke-opacity="0.55" stroke-width="1.4"/>
<circle cx="950.3" cy="1933.5" r="6.5" fill="#F8766D" fill-opacity="0.58" stroke="#F8766D" stroke-opacity="0.55" stroke-width="1.4"/>
<circle cx="967.5" cy="1967.7" r="6.5" fill="#F8766D" fill-opacity="0.58" stroke="#F8766D" stroke-opacity="0.55" stroke-width="1.4"/>
<circle cx="967.5" cy="1967.7" r="6.5" fill="#F8766D" fill-opacity="0.58" stroke="#F8766D" stroke-opacity="0.55" stroke-width="1.4"/>
<circle cx="1005.6" cy="2014.6" r="6.5" fill="#C77CFF" fill-opacity="0.58" stroke="#C77CFF" stroke-opacity="0.55" stroke-width="1.4"/>
<circle cx="1005.6" cy="2014.6" r="6.5" fill="#C77CFF" fill-opacity="0.58" stroke="#C77CFF" stroke-opacity="0.55" stroke-width="1.4"/>
<circle cx="1024.1" cy="2027.2" r="6.5" fill="#F8766D" fill-opacity="0.58" stroke="#F8766D" stroke-opacity="0.55" stroke-width="1.4"/>
<circle cx="1032.8" cy="2039.0" r="6.5" fill="#7f7f7f" fill-opacity="0.58" stroke="#7f7f7f" stroke-opacity="0.55" stroke-width="1.4"/>
<circle cx="1057.3" cy="2084.5" r="6.5" fill="#F8766D" fill-opacity="0.58" stroke="#F8766D" stroke-opacity="0.55" stroke-width="1.4"/>
<circle cx="1072.3" cy="2134.1" r="6.5" fill="#7f7f7f" fill-opacity="0.58" stroke="#7f7f7f" stroke-opacity="0.55" stroke-width="1.4"/>
<circle cx="1116.5" cy="2187.4" r="6.5" fill="#7f7f7f" fill-opacity="0.58" stroke="#7f7f7f" stroke-opacity="0.55" stroke-width="1.4"/>
<circle cx="1120.4" cy="2189.4" r="6.5" fill="#F8766D" fill-opacity="0.58" stroke="#F8766D" stroke-opacity="0.55" stroke-width="1.4"/>
<circle cx="1121.6" cy="2195.3" r="6.5" fill="#F8766D" fill-opacity="0.58" stroke="#F8766D" stroke-opacity="0.55" stroke-width="1.4"/>
<circle cx="1148.1" cy="2221.4" r="6.5" fill="#7f7f7f" fill-opacity="0.58" stroke="#7f7f7f" stroke-opacity="0.55" stroke-width="1.4"/>
<circle cx="1202.9" cy="2258.4" r="6.5" fill="#7f7f7f" fill-opacity="0.58" stroke="#7f7f7f" stroke-opacity="0.55" stroke-width="1.4"/>
<circle cx="1216.3" cy="2265.4" r="6.5" fill="#F8766D" fill-opacity="0.58" stroke="#F8766D" stroke-opacity="0.55" stroke-width="1.4"/>
<circle cx="1273.3" cy="2279.8" r="6.5" fill="#7f7f7f" fill-opacity="0.58" stroke="#7f7f7f" stroke-opacity="0.55" stroke-width="1.4"/>
<circle cx="1306.5" cy="2297.8" r="6.5" fill="#C77CFF" fill-opacity="0.58" stroke="#C77CFF" stroke-opacity="0.55" stroke-width="1.4"/>
<circle cx="1306.5" cy="2297.8" r="6.5" fill="#7f7f7f" fill-opacity="0.58" stroke="#7f7f7f" stroke-opacity="0.55" stroke-width="1.4"/>
<circle cx="1296.9" cy="2303.9" r="6.5" fill="#7f7f7f" fill-opacity="0.58" stroke="#7f7f7f" stroke-opacity="0.55" stroke-width="1.4"/>
<circle cx="1296.9" cy="2303.9" r="6.5" fill="#7f7f7f" fill-opacity="0.58" stroke="#7f7f7f" stroke-opacity="0.55" stroke-width="1.4"/>
<circle cx="1292.5" cy="2307.4" r="6.5" fill="#C77CFF" fill-opacity="0.58" stroke="#C77CFF" stroke-opacity="0.55" stroke-width="1.4"/>
<circle cx="1292.5" cy="2307.4" r="6.5" fill="#F8766D" fill-opacity="0.58" stroke="#F8766D" stroke-opacity="0.55" stroke-width="1.4"/>
<circle cx="1292.5" cy="2307.4" r="6.5" fill="#F8766D" fill-opacity="0.58" stroke="#F8766D" stroke-opacity="0.55" stroke-width="1.4"/>
<circle cx="1291.1" cy="2321.0" r="6.5" fill="#F8766D" fill-opacity="0.58" stroke="#F8766D" stroke-opacity="0.55" stroke-width="1.4"/>
<circle cx="1273.3" cy="2314.4" r="6.5" fill="#C77CFF" fill-opacity="0.58" stroke="#C77CFF" stroke-opacity="0.55" stroke-width="1.4"/>
<circle cx="1273.3" cy="2314.4" r="6.5" fill="#C77CFF" fill-opacity="0.58" stroke="#C77CFF" stroke-opacity="0.55" stroke-width="1.4"/>
<circle cx="1278.5" cy="2309.1" r="6.5" fill="#F8766D" fill-opacity="0.58" stroke="#F8766D" stroke-opacity="0.55" stroke-width="1.4"/>
<circle cx="1280.3" cy="2310.9" r="6.5" fill="#F8766D" fill-opacity="0.58" stroke="#F8766D" stroke-opacity="0.55" stroke-width="1.4"/>
<circle cx="1278.5" cy="2309.1" r="6.5" fill="#F8766D" fill-opacity="0.58" stroke="#F8766D" stroke-opacity="0.55" stroke-width="1.4"/>
<circle cx="1268.1" cy="2306.9" r="6.5" fill="#C77CFF" fill-opacity="0.58" stroke="#C77CFF" stroke-opacity="0.55" stroke-width="1.4"/>
<circle cx="1268.1" cy="2306.9" r="6.5" fill="#7f7f7f" fill-opacity="0.58" stroke="#7f7f7f" stroke-opacity="0.55" stroke-width="1.4"/>
<circle cx="1255.0" cy="2304.8" r="6.5" fill="#F8766D" fill-opacity="0.58" stroke="#F8766D" stroke-opacity="0.55" stroke-width="1.4"/>
<circle cx="1258.8" cy="2308.8" r="6.5" fill="#C77CFF" fill-opacity="0.58" stroke="#C77CFF" stroke-opacity="0.55" stroke-width="1.4"/>
<circle cx="1258.8" cy="2308.8" r="6.5" fill="#F8766D" fill-opacity="0.58" stroke="#F8766D" stroke-opacity="0.55" stroke-width="1.4"/>
<circle cx="1258.8" cy="2308.8" r="6.5" fill="#F8766D" fill-opacity="0.58" stroke="#F8766D" stroke-opacity="0.55" stroke-width="1.4"/>
<circle cx="1245.3" cy="2312.6" r="6.5" fill="#C77CFF" fill-opacity="0.58" stroke="#C77CFF" stroke-opacity="0.55" stroke-width="1.4"/>
<circle cx="1243.6" cy="2314.4" r="6.5" fill="#00BFC4" fill-opacity="0.58" stroke="#00BFC4" stroke-opacity="0.55" stroke-width="1.4"/>
<circle cx="1234.9" cy="2317.9" r="6.5" fill="#C77CFF" fill-opacity="0.58" stroke="#C77CFF" stroke-opacity="0.55" stroke-width="1.4"/>
<circle cx="1234.9" cy="2317.9" r="6.5" fill="#C77CFF" fill-opacity="0.58" stroke="#C77CFF" stroke-opacity="0.55" stroke-width="1.4"/>
<circle cx="1230.5" cy="2322.2" r="6.5" fill="#7f7f7f" fill-opacity="0.58" stroke="#7f7f7f" stroke-opacity="0.55" stroke-width="1.4"/>
<circle cx="1227.0" cy="2324.0" r="6.5" fill="#00BFC4" fill-opacity="0.58" stroke="#00BFC4" stroke-opacity="0.55" stroke-width="1.4"/>
<circle cx="1227.0" cy="2324.0" r="6.5" fill="#C77CFF" fill-opacity="0.58" stroke="#C77CFF" stroke-opacity="0.55" stroke-width="1.4"/>
<circle cx="1241.8" cy="2317.9" r="6.5" fill="#7f7f7f" fill-opacity="0.58" stroke="#7f7f7f" stroke-opacity="0.55" stroke-width="1.4"/>
<circle cx="1241.8" cy="2317.9" r="6.5" fill="#7f7f7f" fill-opacity="0.58" stroke="#7f7f7f" stroke-opacity="0.55" stroke-width="1.4"/>
<circle cx="1241.8" cy="2317.9" r="6.5" fill="#7f7f7f" fill-opacity="0.58" stroke="#7f7f7f" stroke-opacity="0.55" stroke-width="1.4"/>
<circle cx="1191.2" cy="2332.7" r="6.5" fill="#F8766D" fill-opacity="0.58" stroke="#F8766D" stroke-opacity="0.55" stroke-width="1.4"/>
<circle cx="238.4" cy="1977.6" r="6.5" fill="#7f7f7f" fill-opacity="0.58" stroke="#7f7f7f" stroke-opacity="0.55" stroke-width="1.4"/>
<circle cx="238.4" cy="1977.6" r="6.5" fill="#7f7f7f" fill-opacity="0.58" stroke="#7f7f7f" stroke-opacity="0.55" stroke-width="1.4"/>
<circle cx="244.1" cy="1980.5" r="6.5" fill="#7f7f7f" fill-opacity="0.58" stroke="#7f7f7f" stroke-opacity="0.55" stroke-width="1.4"/>
<circle cx="234.9" cy="1971.9" r="6.5" fill="#00BFC4" fill-opacity="0.58" stroke="#00BFC4" stroke-opacity="0.55" stroke-width="1.4"/>
<circle cx="245.6" cy="1969.8" r="6.5" fill="#00BFC4" fill-opacity="0.58" stroke="#00BFC4" stroke-opacity="0.55" stroke-width="1.4"/>
<circle cx="245.6" cy="1957.7" r="6.5" fill="#C77CFF" fill-opacity="0.58" stroke="#C77CFF" stroke-opacity="0.55" stroke-width="1.4"/>
<circle cx="250.6" cy="1964.8" r="6.5" fill="#C77CFF" fill-opacity="0.58" stroke="#C77CFF" stroke-opacity="0.55" stroke-width="1.4"/>
<circle cx="241.3" cy="1982.6" r="6.5" fill="#C77CFF" fill-opacity="0.58" stroke="#C77CFF" stroke-opacity="0.55" stroke-width="1.4"/>
<circle cx="245.6" cy="1976.2" r="6.5" fill="#C77CFF" fill-opacity="0.58" stroke="#C77CFF" stroke-opacity="0.55" stroke-width="1.4"/>
<circle cx="245.6" cy="1976.2" r="6.5" fill="#C77CFF" fill-opacity="0.58" stroke="#C77CFF" stroke-opacity="0.55" stroke-width="1.4"/>
<circle cx="271.2" cy="1980.5" r="6.5" fill="#F8766D" fill-opacity="0.58" stroke="#F8766D" stroke-opacity="0.55" stroke-width="1.4"/>
<circle cx="271.2" cy="1980.5" r="6.5" fill="#F8766D" fill-opacity="0.58" stroke="#F8766D" stroke-opacity="0.55" stroke-width="1.4"/>
<circle cx="283.3" cy="1984.0" r="6.5" fill="#F8766D" fill-opacity="0.58" stroke="#F8766D" stroke-opacity="0.55" stroke-width="1.4"/>
<circle cx="283.3" cy="1984.0" r="6.5" fill="#F8766D" fill-opacity="0.58" stroke="#F8766D" stroke-opacity="0.55" stroke-width="1.4"/>
<circle cx="293.3" cy="1981.2" r="6.5" fill="#F8766D" fill-opacity="0.58" stroke="#F8766D" stroke-opacity="0.55" stroke-width="1.4"/>
<circle cx="288.3" cy="1976.9" r="6.5" fill="#F8766D" fill-opacity="0.58" stroke="#F8766D" stroke-opacity="0.55" stroke-width="1.4"/>
<circle cx="285.4" cy="1974.8" r="6.5" fill="#C77CFF" fill-opacity="0.58" stroke="#C77CFF" stroke-opacity="0.55" stroke-width="1.4"/>
<circle cx="285.4" cy="1974.8" r="6.5" fill="#C77CFF" fill-opacity="0.58" stroke="#C77CFF" stroke-opacity="0.55" stroke-width="1.4"/>
<circle cx="291.1" cy="1974.0" r="6.5" fill="#C77CFF" fill-opacity="0.58" stroke="#C77CFF" stroke-opacity="0.55" stroke-width="1.4"/>
<circle cx="298.3" cy="1986.9" r="6.5" fill="#C77CFF" fill-opacity="0.58" stroke="#C77CFF" stroke-opacity="0.55" stroke-width="1.4"/>
<circle cx="266.9" cy="1996.8" r="6.5" fill="#C77CFF" fill-opacity="0.58" stroke="#C77CFF" stroke-opacity="0.55" stroke-width="1.4"/>
<circle cx="261.2" cy="1998.3" r="6.5" fill="#F8766D" fill-opacity="0.58" stroke="#F8766D" stroke-opacity="0.55" stroke-width="1.4"/>
<circle cx="264.8" cy="2002.5" r="6.5" fill="#F8766D" fill-opacity="0.58" stroke="#F8766D" stroke-opacity="0.55" stroke-width="1.4"/>
<circle cx="264.8" cy="2002.5" r="6.5" fill="#F8766D" fill-opacity="0.58" stroke="#F8766D" stroke-opacity="0.55" stroke-width="1.4"/>
<circle cx="266.9" cy="2006.1" r="6.5" fill="#F8766D" fill-opacity="0.58" stroke="#F8766D" stroke-opacity="0.55" stroke-width="1.4"/>
<circle cx="266.9" cy="2006.1" r="6.5" fill="#F8766D" fill-opacity="0.58" stroke="#F8766D" stroke-opacity="0.55" stroke-width="1.4"/>
<circle cx="268.3" cy="2008.2" r="6.5" fill="#C77CFF" fill-opacity="0.58" stroke="#C77CFF" stroke-opacity="0.55" stroke-width="1.4"/>
<circle cx="271.2" cy="2011.1" r="6.5" fill="#7f7f7f" fill-opacity="0.58" stroke="#7f7f7f" stroke-opacity="0.55" stroke-width="1.4"/>
<circle cx="271.2" cy="2011.1" r="6.5" fill="#7f7f7f" fill-opacity="0.58" stroke="#7f7f7f" stroke-opacity="0.55" stroke-width="1.4"/>
<circle cx="276.9" cy="2008.2" r="6.5" fill="#7f7f7f" fill-opacity="0.58" stroke="#7f7f7f" stroke-opacity="0.55" stroke-width="1.4"/>
<circle cx="281.9" cy="2013.9" r="6.5" fill="#F8766D" fill-opacity="0.58" stroke="#F8766D" stroke-opacity="0.55" stroke-width="1.4"/>
<circle cx="282.6" cy="2023.9" r="6.5" fill="#F8766D" fill-opacity="0.58" stroke="#F8766D" stroke-opacity="0.55" stroke-width="1.4"/>
<circle cx="282.6" cy="2023.9" r="6.5" fill="#F8766D" fill-opacity="0.58" stroke="#F8766D" stroke-opacity="0.55" stroke-width="1.4"/>
<circle cx="286.9" cy="2048.1" r="6.5" fill="#F8766D" fill-opacity="0.58" stroke="#F8766D" stroke-opacity="0.55" stroke-width="1.4"/>
<circle cx="287.1" cy="2056.6" r="6.5" fill="#F8766D" fill-opacity="0.58" stroke="#F8766D" stroke-opacity="0.55" stroke-width="1.4"/>
<circle cx="287.1" cy="2056.6" r="6.5" fill="#F8766D" fill-opacity="0.58" stroke="#F8766D" stroke-opacity="0.55" stroke-width="1.4"/>
<circle cx="287.6" cy="2063.8" r="6.5" fill="#F8766D" fill-opacity="0.58" stroke="#F8766D" stroke-opacity="0.55" stroke-width="1.4"/>
<circle cx="287.6" cy="2063.8" r="6.5" fill="#F8766D" fill-opacity="0.58" stroke="#F8766D" stroke-opacity="0.55" stroke-width="1.4"/>
<circle cx="285.4" cy="2070.9" r="6.5" fill="#F8766D" fill-opacity="0.58" stroke="#F8766D" stroke-opacity="0.55" stroke-width="1.4"/>
<circle cx="285.4" cy="2070.9" r="6.5" fill="#F8766D" fill-opacity="0.58" stroke="#F8766D" stroke-opacity="0.55" stroke-width="1.4"/>
<circle cx="284.0" cy="2078.0" r="6.5" fill="#F8766D" fill-opacity="0.58" stroke="#F8766D" stroke-opacity="0.55" stroke-width="1.4"/>
<circle cx="284.0" cy="2078.0" r="6.5" fill="#F8766D" fill-opacity="0.58" stroke="#F8766D" stroke-opacity="0.55" stroke-width="1.4"/>
<circle cx="288.3" cy="2080.8" r="6.5" fill="#F8766D" fill-opacity="0.58" stroke="#F8766D" stroke-opacity="0.55" stroke-width="1.4"/>
<circle cx="288.3" cy="2080.8" r="6.5" fill="#F8766D" fill-opacity="0.58" stroke="#F8766D" stroke-opacity="0.55" stroke-width="1.4"/>
<circle cx="294.0" cy="2079.4" r="6.5" fill="#F8766D" fill-opacity="0.58" stroke="#F8766D" stroke-opacity="0.55" stroke-width="1.4"/>
<circle cx="292.6" cy="2089.4" r="6.5" fill="#F8766D" fill-opacity="0.58" stroke="#F8766D" stroke-opacity="0.55" stroke-width="1.4"/>
<circle cx="275.5" cy="2083.7" r="6.5" fill="#F8766D" fill-opacity="0.58" stroke="#F8766D" stroke-opacity="0.55" stroke-width="1.4"/>
<circle cx="281.9" cy="2095.1" r="6.5" fill="#C77CFF" fill-opacity="0.58" stroke="#C77CFF" stroke-opacity="0.55" stroke-width="1.4"/>
<circle cx="284.0" cy="2099.4" r="6.5" fill="#F8766D" fill-opacity="0.58" stroke="#F8766D" stroke-opacity="0.55" stroke-width="1.4"/>
<circle cx="284.0" cy="2099.4" r="6.5" fill="#F8766D" fill-opacity="0.58" stroke="#F8766D" stroke-opacity="0.55" stroke-width="1.4"/>
<circle cx="286.9" cy="2105.0" r="6.5" fill="#F8766D" fill-opacity="0.58" stroke="#F8766D" stroke-opacity="0.55" stroke-width="1.4"/>
<circle cx="286.9" cy="2105.0" r="6.5" fill="#F8766D" fill-opacity="0.58" stroke="#F8766D" stroke-opacity="0.55" stroke-width="1.4"/>
<circle cx="291.1" cy="2107.9" r="6.5" fill="#F8766D" fill-opacity="0.58" stroke="#F8766D" stroke-opacity="0.55" stroke-width="1.4"/>
<circle cx="291.1" cy="2107.9" r="6.5" fill="#F8766D" fill-opacity="0.58" stroke="#F8766D" stroke-opacity="0.55" stroke-width="1.4"/>
<circle cx="282.6" cy="2110.7" r="6.5" fill="#7f7f7f" fill-opacity="0.58" stroke="#7f7f7f" stroke-opacity="0.55" stroke-width="1.4"/>
<circle cx="316.1" cy="2053.1" r="6.5" fill="#00BFC4" fill-opacity="0.58" stroke="#00BFC4" stroke-opacity="0.55" stroke-width="1.4"/>
<circle cx="326.0" cy="2050.2" r="6.5" fill="#C77CFF" fill-opacity="0.58" stroke="#C77CFF" stroke-opacity="0.55" stroke-width="1.4"/>
<circle cx="325.3" cy="2053.8" r="6.5" fill="#F8766D" fill-opacity="0.58" stroke="#F8766D" stroke-opacity="0.55" stroke-width="1.4"/>
<circle cx="316.8" cy="2059.5" r="6.5" fill="#F8766D" fill-opacity="0.58" stroke="#F8766D" stroke-opacity="0.55" stroke-width="1.4"/>
<circle cx="316.8" cy="2059.5" r="6.5" fill="#F8766D" fill-opacity="0.58" stroke="#F8766D" stroke-opacity="0.55" stroke-width="1.4"/>
<circle cx="312.5" cy="2061.6" r="6.5" fill="#F8766D" fill-opacity="0.58" stroke="#F8766D" stroke-opacity="0.55" stroke-width="1.4"/>
<circle cx="318.2" cy="2069.5" r="6.5" fill="#7CAE00" fill-opacity="0.58" stroke="#7CAE00" stroke-opacity="0.55" stroke-width="1.4"/>
<circle cx="318.2" cy="2069.5" r="6.5" fill="#F8766D" fill-opacity="0.58" stroke="#F8766D" stroke-opacity="0.55" stroke-width="1.4"/>
<circle cx="350.9" cy="2085.1" r="6.5" fill="#F8766D" fill-opacity="0.58" stroke="#F8766D" stroke-opacity="0.55" stroke-width="1.4"/>
<circle cx="363.8" cy="2082.3" r="6.5" fill="#7f7f7f" fill-opacity="0.58" stroke="#7f7f7f" stroke-opacity="0.55" stroke-width="1.4"/>
<circle cx="363.8" cy="2082.3" r="6.5" fill="#7f7f7f" fill-opacity="0.58" stroke="#7f7f7f" stroke-opacity="0.55" stroke-width="1.4"/>
<circle cx="373.0" cy="2077.3" r="6.5" fill="#00BFC4" fill-opacity="0.58" stroke="#00BFC4" stroke-opacity="0.55" stroke-width="1.4"/>
<circle cx="373.0" cy="2077.3" r="6.5" fill="#00BFC4" fill-opacity="0.58" stroke="#00BFC4" stroke-opacity="0.55" stroke-width="1.4"/>
<circle cx="302.5" cy="2119.3" r="6.5" fill="#C77CFF" fill-opacity="0.58" stroke="#C77CFF" stroke-opacity="0.55" stroke-width="1.4"/>
<circle cx="298.3" cy="2113.6" r="6.5" fill="#C77CFF" fill-opacity="0.58" stroke="#C77CFF" stroke-opacity="0.55" stroke-width="1.4"/>
<circle cx="323.9" cy="2113.6" r="6.5" fill="#C77CFF" fill-opacity="0.58" stroke="#C77CFF" stroke-opacity="0.55" stroke-width="1.4"/>
<circle cx="308.2" cy="2125.0" r="6.5" fill="#C77CFF" fill-opacity="0.58" stroke="#C77CFF" stroke-opacity="0.55" stroke-width="1.4"/>
<circle cx="308.2" cy="2125.0" r="6.5" fill="#C77CFF" fill-opacity="0.58" stroke="#C77CFF" stroke-opacity="0.55" stroke-width="1.4"/>
<circle cx="308.2" cy="2122.1" r="6.5" fill="#00BFC4" fill-opacity="0.58" stroke="#00BFC4" stroke-opacity="0.55" stroke-width="1.4"/>
<circle cx="328.2" cy="2125.0" r="6.5" fill="#F8766D" fill-opacity="0.58" stroke="#F8766D" stroke-opacity="0.55" stroke-width="1.4"/>
<circle cx="328.2" cy="2125.0" r="6.5" fill="#F8766D" fill-opacity="0.58" stroke="#F8766D" stroke-opacity="0.55" stroke-width="1.4"/>
<circle cx="333.9" cy="2130.7" r="6.5" fill="#F8766D" fill-opacity="0.58" stroke="#F8766D" stroke-opacity="0.55" stroke-width="1.4"/>
<circle cx="301.8" cy="2137.1" r="6.5" fill="#F8766D" fill-opacity="0.58" stroke="#F8766D" stroke-opacity="0.55" stroke-width="1.4"/>
<circle cx="316.8" cy="2126.4" r="6.5" fill="#00BFC4" fill-opacity="0.58" stroke="#00BFC4" stroke-opacity="0.55" stroke-width="1.4"/>
<circle cx="316.8" cy="2126.4" r="6.5" fill="#00BFC4" fill-opacity="0.58" stroke="#00BFC4" stroke-opacity="0.55" stroke-width="1.4"/>
<circle cx="316.8" cy="2126.4" r="6.5" fill="#00BFC4" fill-opacity="0.58" stroke="#00BFC4" stroke-opacity="0.55" stroke-width="1.4"/>
<circle cx="326.7" cy="2133.5" r="6.5" fill="#00BFC4" fill-opacity="0.58" stroke="#00BFC4" stroke-opacity="0.55" stroke-width="1.4"/>
<circle cx="326.7" cy="2133.5" r="6.5" fill="#00BFC4" fill-opacity="0.58" stroke="#00BFC4" stroke-opacity="0.55" stroke-width="1.4"/>
<circle cx="316.1" cy="2113.6" r="6.5" fill="#7f7f7f" fill-opacity="0.58" stroke="#7f7f7f" stroke-opacity="0.55" stroke-width="1.4"/>
<circle cx="316.1" cy="2113.6" r="6.5" fill="#7f7f7f" fill-opacity="0.58" stroke="#7f7f7f" stroke-opacity="0.55" stroke-width="1.4"/>
<circle cx="316.1" cy="2113.6" r="6.5" fill="#7f7f7f" fill-opacity="0.58" stroke="#7f7f7f" stroke-opacity="0.55" stroke-width="1.4"/>
<circle cx="290.1" cy="1995.1" r="7" fill="#7CAE00" fill-opacity="0.7"/>
<circle cx="290.1" cy="1995.1" r="7" fill="#7CAE00" fill-opacity="0.7"/>
<circle cx="289.4" cy="2000.3" r="7" fill="#7CAE00" fill-opacity="0.7"/>
<circle cx="289.4" cy="2000.3" r="7" fill="#7CAE00" fill-opacity="0.7"/>
<circle cx="290.8" cy="2003.8" r="7" fill="#7CAE00" fill-opacity="0.7"/>
<circle cx="290.8" cy="2003.8" r="7" fill="#7CAE00" fill-opacity="0.7"/>
<circle cx="292.2" cy="2007.3" r="7" fill="#7CAE00" fill-opacity="0.7"/>
<circle cx="292.2" cy="2007.3" r="7" fill="#7CAE00" fill-opacity="0.7"/>
<circle cx="293.6" cy="2010.8" r="7" fill="#7CAE00" fill-opacity="0.7"/>
<circle cx="293.6" cy="2010.8" r="7" fill="#7CAE00" fill-opacity="0.7"/>
<circle cx="295.4" cy="2014.3" r="7" fill="#7CAE00" fill-opacity="0.7"/>
<circle cx="295.4" cy="2014.3" r="7" fill="#7CAE00" fill-opacity="0.7"/>
<circle cx="297.1" cy="2016.7" r="7" fill="#7CAE00" fill-opacity="0.7"/>
<circle cx="297.1" cy="2016.7" r="7" fill="#7CAE00" fill-opacity="0.7"/>
<circle cx="301.3" cy="2012.5" r="7" fill="#7CAE00" fill-opacity="0.7"/>
<circle cx="301.3" cy="2012.5" r="7" fill="#7CAE00" fill-opacity="0.7"/>
<circle cx="295.4" cy="2026.5" r="7" fill="#7CAE00" fill-opacity="0.7"/>
<circle cx="295.4" cy="2026.5" r="7" fill="#7CAE00" fill-opacity="0.7"/>
<circle cx="304.1" cy="2027.2" r="7" fill="#7CAE00" fill-opacity="0.7"/>
<circle cx="304.1" cy="2027.2" r="7" fill="#7CAE00" fill-opacity="0.7"/>
<circle cx="292.9" cy="2019.5" r="7" fill="#7CAE00" fill-opacity="0.7"/>
<circle cx="292.9" cy="2019.5" r="7" fill="#7CAE00" fill-opacity="0.7"/>
<circle cx="289.7" cy="1994.0" r="7" fill="#7CAE00" fill-opacity="0.7"/>
<circle cx="289.7" cy="1994.0" r="7" fill="#7CAE00" fill-opacity="0.7"/>
<circle cx="289.0" cy="1999.7" r="7" fill="#7CAE00" fill-opacity="0.7"/>
<circle cx="289.0" cy="1999.7" r="7" fill="#7CAE00" fill-opacity="0.7"/>
<circle cx="291.1" cy="2005.4" r="7" fill="#7CAE00" fill-opacity="0.7"/>
<circle cx="291.1" cy="2005.4" r="7" fill="#7CAE00" fill-opacity="0.7"/>
<circle cx="293.3" cy="2011.1" r="7" fill="#7CAE00" fill-opacity="0.7"/>
<circle cx="293.3" cy="2011.1" r="7" fill="#7CAE00" fill-opacity="0.7"/>
<circle cx="295.4" cy="2016.8" r="7" fill="#7CAE00" fill-opacity="0.7"/>
<circle cx="295.4" cy="2016.8" r="7" fill="#7CAE00" fill-opacity="0.7"/>
<circle cx="302.5" cy="2012.5" r="7" fill="#7CAE00" fill-opacity="0.7"/>
<circle cx="302.5" cy="2012.5" r="7" fill="#7CAE00" fill-opacity="0.7"/>
<circle cx="304.7" cy="2013.9" r="7" fill="#7CAE00" fill-opacity="0.7"/>
<circle cx="304.7" cy="2013.9" r="7" fill="#7CAE00" fill-opacity="0.7"/>
<circle cx="292.6" cy="2021.0" r="7" fill="#7CAE00" fill-opacity="0.7"/>
<circle cx="292.6" cy="2021.0" r="7" fill="#7CAE00" fill-opacity="0.7"/>
<circle cx="285.4" cy="2002.5" r="7" fill="#7CAE00" fill-opacity="0.7"/>
<circle cx="285.4" cy="2002.5" r="7" fill="#7CAE00" fill-opacity="0.7"/>
<circle cx="286.9" cy="2009.6" r="7" fill="#7CAE00" fill-opacity="0.7"/>
<circle cx="286.9" cy="2009.6" r="7" fill="#7CAE00" fill-opacity="0.7"/>
<circle cx="288.3" cy="2015.3" r="7" fill="#7CAE00" fill-opacity="0.7"/>
<circle cx="288.3" cy="2015.3" r="7" fill="#7CAE00" fill-opacity="0.7"/>
<circle cx="291.1" cy="2022.5" r="7" fill="#7CAE00" fill-opacity="0.7"/>
<circle cx="291.1" cy="2022.5" r="7" fill="#7CAE00" fill-opacity="0.7"/>
<rect x="548" y="1740" width="306" height="43" fill="#fff"/>
<text x="700.8" y="1771.7" font-size="35.85" text-anchor="middle" font-family='"Liberation Sans","DejaVu Sans",sans-serif' fill="#1a1a1a" stroke="#1a1a1a" stroke-width="0.2">activity by location</text>
<text x="697" y="2447.2" font-size="35.6" text-anchor="middle" font-family='"Liberation Sans","DejaVu Sans",sans-serif' fill="#1a1a1a" stroke="#1a1a1a" stroke-width="0.2">latitude</text>
<text x="35" y="2102.7" font-size="35" text-anchor="middle" font-family='"Liberation Sans","DejaVu Sans",sans-serif' fill="#1a1a1a" stroke="#1a1a1a" stroke-width="0.2" transform="rotate(-90 35 2102.7)">longitude</text>
<rect x="1335.6" y="1888" width="274.4" height="330" fill="#fff"/>
<text x="1336.8" y="1915" font-size="35.2" text-anchor="start" font-family='"Liberation Sans","DejaVu Sans",sans-serif' fill="#1a1a1a" stroke="#1a1a1a" stroke-width="0.2">activity</text>
<circle cx="1364" cy="1963.6" r="6.5" fill="#F8766D" fill-opacity="0.58" stroke="#F8766D" stroke-opacity="0.55" stroke-width="1.4"/>
<text x="1410.6" y="1973.4" font-size="28" text-anchor="start" font-family='"Liberation Sans","DejaVu Sans",sans-serif' fill="#1a1a1a" stroke="#1a1a1a" stroke-width="0.2">IN_VEHICLE</text>
<circle cx="1364" cy="2019.1" r="6.5" fill="#7CAE00" fill-opacity="0.58" stroke="#7CAE00" stroke-opacity="0.55" stroke-width="1.4"/>
<text x="1410.6" y="2028.9" font-size="28" text-anchor="start" font-family='"Liberation Sans","DejaVu Sans",sans-serif' fill="#1a1a1a" stroke="#1a1a1a" stroke-width="0.2">ON_BICYCLE</text>
<circle cx="1364" cy="2074.6" r="6.5" fill="#00BFC4" fill-opacity="0.58" stroke="#00BFC4" stroke-opacity="0.55" stroke-width="1.4"/>
<text x="1410.6" y="2084.4" font-size="28" text-anchor="start" font-family='"Liberation Sans","DejaVu Sans",sans-serif' fill="#1a1a1a" stroke="#1a1a1a" stroke-width="0.2">ON_FOOT</text>
<circle cx="1364" cy="2130.1" r="6.5" fill="#C77CFF" fill-opacity="0.58" stroke="#C77CFF" stroke-opacity="0.55" stroke-width="1.4"/>
<text x="1410.6" y="2139.9" font-size="28" text-anchor="start" font-family='"Liberation Sans","DejaVu Sans",sans-serif' fill="#1a1a1a" stroke="#1a1a1a" stroke-width="0.2">STILL</text>
<circle cx="1364" cy="2185.6" r="6.5" fill="#7f7f7f" fill-opacity="0.58" stroke="#7f7f7f" stroke-opacity="0.55" stroke-width="1.4"/>
<text x="1410.6" y="2195.4" font-size="28" text-anchor="start" font-family='"Liberation Sans","DejaVu Sans",sans-serif' fill="#1a1a1a" stroke="#1a1a1a" stroke-width="0.2">NA</text>
</g>
</svg></body></html>
